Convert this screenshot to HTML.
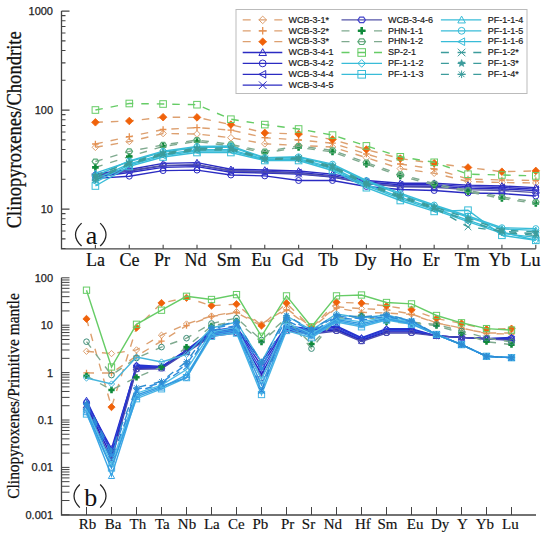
<!DOCTYPE html><html><head><meta charset="utf-8"><style>html,body{margin:0;padding:0;background:#fff;width:550px;height:538px;overflow:hidden}svg{display:block}</style></head><body>
<svg width="550" height="538" viewBox="0 0 550 538">
<rect width="550" height="538" fill="#fff"/>
<path d="M61.5,11.1V248.8H535.8" fill="none" stroke="#444" stroke-width="1.3"/>
<path d="M61.5,209.10h8M61.5,179.30h4M61.5,161.86h4M61.5,149.50h4M61.5,139.90h4M61.5,132.06h4M61.5,125.44h4M61.5,119.69h4M61.5,114.63h4M61.5,110.10h8M61.5,80.30h4M61.5,62.86h4M61.5,50.50h4M61.5,40.90h4M61.5,33.06h4M61.5,26.44h4M61.5,20.69h4M61.5,15.63h4M61.5,248.50h4M61.5,238.90h4M61.5,231.06h4M61.5,224.44h4M61.5,218.69h4M61.5,213.63h4M61.5,11.1h8M95.38,248.8v-4M129.26,248.8v-4M163.14,248.8v-4M197.01,248.8v-4M230.89,248.8v-4M264.77,248.8v-4M298.65,248.8v-4M332.53,248.8v-4M366.41,248.8v-4M400.29,248.8v-4M434.16,248.8v-4M468.04,248.8v-4M501.92,248.8v-4M535.80,248.8v-4" stroke="#444" stroke-width="1.1"/>
<g font-family="Liberation Sans" font-size="11" fill="#222" stroke="#222" stroke-width="0.25" text-anchor="end">
<text x="53" y="15.1">1000</text>
<text x="53" y="114.1">100</text>
<text x="53" y="213.1">10</text>
</g>
<g font-family="Liberation Serif" font-size="18" fill="#111" stroke="#111" stroke-width="0.2" text-anchor="middle">
<text x="95.5" y="266">La</text>
<text x="129.6" y="266">Ce</text>
<text x="162.0" y="266">Pr</text>
<text x="195.4" y="266">Nd</text>
<text x="228.8" y="266">Sm</text>
<text x="261.3" y="266">Eu</text>
<text x="292.5" y="266">Gd</text>
<text x="328.3" y="266">Tb</text>
<text x="365.4" y="266">Dy</text>
<text x="401.0" y="266">Ho</text>
<text x="431.0" y="266">Er</text>
<text x="467.3" y="266">Tm</text>
<text x="499.5" y="266">Yb</text>
<text x="530.5" y="266">Lu</text>
</g>
<text transform="translate(21.3,129.8) rotate(-90)" font-family="Liberation Serif" font-size="20" fill="#111" stroke="#111" stroke-width="0.3" text-anchor="middle" textLength="197" lengthAdjust="spacingAndGlyphs">Clinopyroxenes/Chondrite</text>
<path d="M81.6,223.1Q69.4,234.7 81.6,246M100.2,223.1Q111.8,234.7 100.2,246" fill="none" stroke="#222" stroke-width="1.25"/>
<text x="91.6" y="243.8" font-family="Liberation Serif" font-size="26" fill="#111" text-anchor="middle">a</text>
<path d="M61.5,277.8V515.0H536.0" fill="none" stroke="#444" stroke-width="1.3"/>
<path d="M61.5,514.80h8M61.5,500.53h8M61.5,492.18h8M61.5,486.26h8M61.5,481.67h8M61.5,477.92h8M61.5,474.74h8M61.5,471.99h8M61.5,469.57h8M61.5,467.40h8M61.5,453.13h8M61.5,444.78h8M61.5,438.86h8M61.5,434.27h8M61.5,430.52h8M61.5,427.34h8M61.5,424.59h8M61.5,422.17h8M61.5,420.00h8M61.5,405.73h8M61.5,397.38h8M61.5,391.46h8M61.5,386.87h8M61.5,383.12h8M61.5,379.94h8M61.5,377.19h8M61.5,374.77h8M61.5,372.60h8M61.5,358.33h8M61.5,349.98h8M61.5,344.06h8M61.5,339.47h8M61.5,335.72h8M61.5,332.54h8M61.5,329.79h8M61.5,327.37h8M61.5,325.20h8M61.5,310.93h8M61.5,302.58h8M61.5,296.66h8M61.5,292.07h8M61.5,288.32h8M61.5,285.14h8M61.5,282.39h8M61.5,279.97h8M61.5,277.8h8M86.50,515.0v-8M111.50,515.0v-8M136.50,515.0v-8M161.50,515.0v-8M186.50,515.0v-8M211.50,515.0v-8M236.50,515.0v-8M261.50,515.0v-8M286.50,515.0v-8M311.50,515.0v-8M336.50,515.0v-8M361.50,515.0v-8M386.50,515.0v-8M411.50,515.0v-8M436.50,515.0v-8M461.50,515.0v-8M486.50,515.0v-8M511.50,515.0v-8" stroke="#444" stroke-width="1.0"/>
<g font-family="Liberation Sans" font-size="11" fill="#222" stroke="#222" stroke-width="0.25" text-anchor="end">
<text x="53" y="281.8">100</text>
<text x="53" y="329.2">10</text>
<text x="53" y="376.6">1</text>
<text x="53" y="424.0">0.1</text>
<text x="53" y="471.4">0.01</text>
<text x="53" y="518.8">0.001</text>
</g>
<g font-family="Liberation Serif" font-size="15" fill="#111" stroke="#111" stroke-width="0.15" text-anchor="middle">
<text x="87.5" y="529.4">Rb</text>
<text x="113.0" y="529.4">Ba</text>
<text x="137.9" y="529.4">Th</text>
<text x="162.4" y="529.4">Ta</text>
<text x="187.0" y="529.4">Nb</text>
<text x="211.8" y="529.4">La</text>
<text x="236.4" y="529.4">Ce</text>
<text x="260.3" y="529.4">Pb</text>
<text x="287.7" y="529.4">Pr</text>
<text x="308.5" y="529.4">Sr</text>
<text x="332.8" y="529.4">Nd</text>
<text x="362.9" y="529.4">Hf</text>
<text x="387.4" y="529.4">Sm</text>
<text x="415.1" y="529.4">Eu</text>
<text x="440.1" y="529.4">Dy</text>
<text x="462.4" y="529.4">Y</text>
<text x="484.9" y="529.4">Yb</text>
<text x="510.4" y="529.4">Lu</text>
</g>
<text transform="translate(19.1,396) rotate(-90)" font-family="Liberation Serif" font-size="17" fill="#111" stroke="#111" stroke-width="0.25" text-anchor="middle" textLength="205.5" lengthAdjust="spacingAndGlyphs">Clinopyroxenes/Primitive mantle</text>
<path d="M79.8,484.5Q68.2,496 79.8,507.6M100.2,484.5Q111.8,496 100.2,507.6" fill="none" stroke="#222" stroke-width="1.25"/>
<text x="90.7" y="505.5" font-family="Liberation Serif" font-size="26" fill="#111" text-anchor="middle">b</text>
<g>
<polyline points="95.4,147.3 129.3,141.5 163.1,133.5 197.0,134.0 230.9,137.7 264.8,143.8 298.6,145.4 332.5,147.0 366.4,157.7 400.3,168.6 434.2,173.2 468.0,181.5 501.9,182.5 535.8,183.0" fill="none" stroke="#DDA070" stroke-width="1.4" stroke-dasharray="7.5 8"/>
<path d="M92.10000000000001,147.3L95.4,144.0L98.7,147.3L95.4,150.60000000000002Z" fill="none" stroke="#DDA070" stroke-width="1.0"/>
<path d="M126.00000000000001,141.5L129.3,138.2L132.60000000000002,141.5L129.3,144.8Z" fill="none" stroke="#DDA070" stroke-width="1.0"/>
<path d="M159.79999999999998,133.5L163.1,130.2L166.4,133.5L163.1,136.8Z" fill="none" stroke="#DDA070" stroke-width="1.0"/>
<path d="M193.7,134L197.0,130.7L200.3,134L197.0,137.3Z" fill="none" stroke="#DDA070" stroke-width="1.0"/>
<path d="M227.6,137.7L230.9,134.39999999999998L234.20000000000002,137.7L230.9,141.0Z" fill="none" stroke="#DDA070" stroke-width="1.0"/>
<path d="M261.5,143.8L264.8,140.5L268.1,143.8L264.8,147.10000000000002Z" fill="none" stroke="#DDA070" stroke-width="1.0"/>
<path d="M295.3,145.4L298.6,142.1L301.90000000000003,145.4L298.6,148.70000000000002Z" fill="none" stroke="#DDA070" stroke-width="1.0"/>
<path d="M329.2,147L332.5,143.7L335.8,147L332.5,150.3Z" fill="none" stroke="#DDA070" stroke-width="1.0"/>
<path d="M363.09999999999997,157.7L366.4,154.39999999999998L369.7,157.7L366.4,161.0Z" fill="none" stroke="#DDA070" stroke-width="1.0"/>
<path d="M397.0,168.6L400.3,165.29999999999998L403.6,168.6L400.3,171.9Z" fill="none" stroke="#DDA070" stroke-width="1.0"/>
<path d="M430.9,173.2L434.2,169.89999999999998L437.5,173.2L434.2,176.5Z" fill="none" stroke="#DDA070" stroke-width="1.0"/>
<path d="M464.7,181.5L468.0,178.2L471.3,181.5L468.0,184.8Z" fill="none" stroke="#DDA070" stroke-width="1.0"/>
<path d="M498.59999999999997,182.5L501.9,179.2L505.2,182.5L501.9,185.8Z" fill="none" stroke="#DDA070" stroke-width="1.0"/>
<path d="M532.5,183L535.8,179.7L539.0999999999999,183L535.8,186.3Z" fill="none" stroke="#DDA070" stroke-width="1.0"/>
<polyline points="95.4,144.0 129.3,136.6 163.1,129.5 197.0,127.6 230.9,130.1 264.8,137.7 298.6,140.0 332.5,143.2 366.4,154.0 400.3,164.0 434.2,169.0 468.0,179.0 501.9,180.0 535.8,180.5" fill="none" stroke="#DDA070" stroke-width="1.4" stroke-dasharray="7.5 8"/>
<path d="M92.10000000000001,144H98.7M95.4,140.7V147.3" stroke="#E59050" stroke-width="1.3"/>
<path d="M126.00000000000001,136.6H132.60000000000002M129.3,133.29999999999998V139.9" stroke="#E59050" stroke-width="1.3"/>
<path d="M159.79999999999998,129.5H166.4M163.1,126.2V132.8" stroke="#E59050" stroke-width="1.3"/>
<path d="M193.7,127.6H200.3M197.0,124.3V130.9" stroke="#E59050" stroke-width="1.3"/>
<path d="M227.6,130.1H234.20000000000002M230.9,126.8V133.4" stroke="#E59050" stroke-width="1.3"/>
<path d="M261.5,137.7H268.1M264.8,134.39999999999998V141.0" stroke="#E59050" stroke-width="1.3"/>
<path d="M295.3,140H301.90000000000003M298.6,136.7V143.3" stroke="#E59050" stroke-width="1.3"/>
<path d="M329.2,143.2H335.8M332.5,139.89999999999998V146.5" stroke="#E59050" stroke-width="1.3"/>
<path d="M363.09999999999997,154H369.7M366.4,150.7V157.3" stroke="#E59050" stroke-width="1.3"/>
<path d="M397.0,164H403.6M400.3,160.7V167.3" stroke="#E59050" stroke-width="1.3"/>
<path d="M430.9,169H437.5M434.2,165.7V172.3" stroke="#E59050" stroke-width="1.3"/>
<path d="M464.7,179H471.3M468.0,175.7V182.3" stroke="#E59050" stroke-width="1.3"/>
<path d="M498.59999999999997,180H505.2M501.9,176.7V183.3" stroke="#E59050" stroke-width="1.3"/>
<path d="M532.5,180.5H539.0999999999999M535.8,177.2V183.8" stroke="#E59050" stroke-width="1.3"/>
<polyline points="95.4,122.3 129.3,121.0 163.1,117.2 197.0,117.4 230.9,124.6 264.8,132.9 298.6,134.0 332.5,139.5 366.4,149.5 400.3,158.6 434.2,163.2 468.0,167.5 501.9,171.7 535.8,170.9" fill="none" stroke="#DDA070" stroke-width="1.4" stroke-dasharray="7.5 8"/>
<path d="M91.60000000000001,122.3L95.4,118.5L99.2,122.3L95.4,126.1Z" fill="#F0620A" stroke="#F0620A" stroke-width="0.8"/>
<path d="M125.50000000000001,121L129.3,117.2L133.10000000000002,121L129.3,124.8Z" fill="#F0620A" stroke="#F0620A" stroke-width="0.8"/>
<path d="M159.29999999999998,117.2L163.1,113.4L166.9,117.2L163.1,121.0Z" fill="#F0620A" stroke="#F0620A" stroke-width="0.8"/>
<path d="M193.2,117.4L197.0,113.60000000000001L200.8,117.4L197.0,121.2Z" fill="#F0620A" stroke="#F0620A" stroke-width="0.8"/>
<path d="M227.1,124.6L230.9,120.8L234.70000000000002,124.6L230.9,128.4Z" fill="#F0620A" stroke="#F0620A" stroke-width="0.8"/>
<path d="M261.0,132.9L264.8,129.1L268.6,132.9L264.8,136.70000000000002Z" fill="#F0620A" stroke="#F0620A" stroke-width="0.8"/>
<path d="M294.8,134L298.6,130.2L302.40000000000003,134L298.6,137.8Z" fill="#F0620A" stroke="#F0620A" stroke-width="0.8"/>
<path d="M328.7,139.5L332.5,135.7L336.3,139.5L332.5,143.3Z" fill="#F0620A" stroke="#F0620A" stroke-width="0.8"/>
<path d="M362.59999999999997,149.5L366.4,145.7L370.2,149.5L366.4,153.3Z" fill="#F0620A" stroke="#F0620A" stroke-width="0.8"/>
<path d="M396.5,158.6L400.3,154.79999999999998L404.1,158.6L400.3,162.4Z" fill="#F0620A" stroke="#F0620A" stroke-width="0.8"/>
<path d="M430.4,163.2L434.2,159.39999999999998L438.0,163.2L434.2,167.0Z" fill="#F0620A" stroke="#F0620A" stroke-width="0.8"/>
<path d="M464.2,167.5L468.0,163.7L471.8,167.5L468.0,171.3Z" fill="#F0620A" stroke="#F0620A" stroke-width="0.8"/>
<path d="M498.09999999999997,171.7L501.9,167.89999999999998L505.7,171.7L501.9,175.5Z" fill="#F0620A" stroke="#F0620A" stroke-width="0.8"/>
<path d="M532.0,170.9L535.8,167.1L539.5999999999999,170.9L535.8,174.70000000000002Z" fill="#F0620A" stroke="#F0620A" stroke-width="0.8"/>
<polyline points="95.4,174.0 129.3,169.5 163.1,163.4 197.0,162.6 230.9,169.3 264.8,170.0 298.6,171.0 332.5,174.1 366.4,180.5 400.3,183.2 434.2,183.2 468.0,185.1 501.9,186.0 535.8,187.6" fill="none" stroke="#2B2BC2" stroke-width="1.4"/>
<path d="M92.10000000000001,176.64L95.4,170.7L98.7,176.64Z" fill="none" stroke="#2B2BC2" stroke-width="1.0"/>
<path d="M126.00000000000001,172.14L129.3,166.2L132.60000000000002,172.14Z" fill="none" stroke="#2B2BC2" stroke-width="1.0"/>
<path d="M159.79999999999998,166.04L163.1,160.1L166.4,166.04Z" fill="none" stroke="#2B2BC2" stroke-width="1.0"/>
<path d="M193.7,165.23999999999998L197.0,159.29999999999998L200.3,165.23999999999998Z" fill="none" stroke="#2B2BC2" stroke-width="1.0"/>
<path d="M227.6,171.94L230.9,166.0L234.20000000000002,171.94Z" fill="none" stroke="#2B2BC2" stroke-width="1.0"/>
<path d="M261.5,172.64L264.8,166.7L268.1,172.64Z" fill="none" stroke="#2B2BC2" stroke-width="1.0"/>
<path d="M295.3,173.64L298.6,167.7L301.90000000000003,173.64Z" fill="none" stroke="#2B2BC2" stroke-width="1.0"/>
<path d="M329.2,176.73999999999998L332.5,170.79999999999998L335.8,176.73999999999998Z" fill="none" stroke="#2B2BC2" stroke-width="1.0"/>
<path d="M363.09999999999997,183.14L366.4,177.2L369.7,183.14Z" fill="none" stroke="#2B2BC2" stroke-width="1.0"/>
<path d="M397.0,185.83999999999997L400.3,179.89999999999998L403.6,185.83999999999997Z" fill="none" stroke="#2B2BC2" stroke-width="1.0"/>
<path d="M430.9,185.83999999999997L434.2,179.89999999999998L437.5,185.83999999999997Z" fill="none" stroke="#2B2BC2" stroke-width="1.0"/>
<path d="M464.7,187.73999999999998L468.0,181.79999999999998L471.3,187.73999999999998Z" fill="none" stroke="#2B2BC2" stroke-width="1.0"/>
<path d="M498.59999999999997,188.64L501.9,182.7L505.2,188.64Z" fill="none" stroke="#2B2BC2" stroke-width="1.0"/>
<path d="M532.5,190.23999999999998L535.8,184.29999999999998L539.0999999999999,190.23999999999998Z" fill="none" stroke="#2B2BC2" stroke-width="1.0"/>
<polyline points="95.4,178.4 129.3,176.2 163.1,170.6 197.0,170.1 230.9,175.0 264.8,175.9 298.6,180.5 332.5,180.5 366.4,186.5 400.3,189.5 434.2,190.5 468.0,193.0 501.9,193.5 535.8,196.0" fill="none" stroke="#2B2BC2" stroke-width="1.4"/>
<circle cx="95.4" cy="178.4" r="2.9699999999999998" fill="none" stroke="#2B2BC2" stroke-width="1.0"/>
<circle cx="129.3" cy="176.2" r="2.9699999999999998" fill="none" stroke="#2B2BC2" stroke-width="1.0"/>
<circle cx="163.1" cy="170.6" r="2.9699999999999998" fill="none" stroke="#2B2BC2" stroke-width="1.0"/>
<circle cx="197.0" cy="170.1" r="2.9699999999999998" fill="none" stroke="#2B2BC2" stroke-width="1.0"/>
<circle cx="230.9" cy="175" r="2.9699999999999998" fill="none" stroke="#2B2BC2" stroke-width="1.0"/>
<circle cx="264.8" cy="175.9" r="2.9699999999999998" fill="none" stroke="#2B2BC2" stroke-width="1.0"/>
<circle cx="298.6" cy="180.5" r="2.9699999999999998" fill="none" stroke="#2B2BC2" stroke-width="1.0"/>
<circle cx="332.5" cy="180.5" r="2.9699999999999998" fill="none" stroke="#2B2BC2" stroke-width="1.0"/>
<circle cx="366.4" cy="186.5" r="2.9699999999999998" fill="none" stroke="#2B2BC2" stroke-width="1.0"/>
<circle cx="400.3" cy="189.5" r="2.9699999999999998" fill="none" stroke="#2B2BC2" stroke-width="1.0"/>
<circle cx="434.2" cy="190.5" r="2.9699999999999998" fill="none" stroke="#2B2BC2" stroke-width="1.0"/>
<circle cx="468.0" cy="193" r="2.9699999999999998" fill="none" stroke="#2B2BC2" stroke-width="1.0"/>
<circle cx="501.9" cy="193.5" r="2.9699999999999998" fill="none" stroke="#2B2BC2" stroke-width="1.0"/>
<circle cx="535.8" cy="196" r="2.9699999999999998" fill="none" stroke="#2B2BC2" stroke-width="1.0"/>
<polyline points="95.4,175.5 129.3,171.0 163.1,165.9 197.0,165.1 230.9,170.8 264.8,171.5 298.6,172.5 332.5,175.6 366.4,182.0 400.3,184.7 434.2,184.7 468.0,186.6 501.9,187.5 535.8,189.1" fill="none" stroke="#2B2BC2" stroke-width="1.4"/>
<path d="M98.04,172.2L92.10000000000001,175.5L98.04,178.8Z" fill="none" stroke="#2B2BC2" stroke-width="1.0"/>
<path d="M131.94,167.7L126.00000000000001,171.0L131.94,174.3Z" fill="none" stroke="#2B2BC2" stroke-width="1.0"/>
<path d="M165.73999999999998,162.6L159.79999999999998,165.9L165.73999999999998,169.20000000000002Z" fill="none" stroke="#2B2BC2" stroke-width="1.0"/>
<path d="M199.64,161.79999999999998L193.7,165.1L199.64,168.4Z" fill="none" stroke="#2B2BC2" stroke-width="1.0"/>
<path d="M233.54,167.5L227.6,170.8L233.54,174.10000000000002Z" fill="none" stroke="#2B2BC2" stroke-width="1.0"/>
<path d="M267.44,168.2L261.5,171.5L267.44,174.8Z" fill="none" stroke="#2B2BC2" stroke-width="1.0"/>
<path d="M301.24,169.2L295.3,172.5L301.24,175.8Z" fill="none" stroke="#2B2BC2" stroke-width="1.0"/>
<path d="M335.14,172.29999999999998L329.2,175.6L335.14,178.9Z" fill="none" stroke="#2B2BC2" stroke-width="1.0"/>
<path d="M369.03999999999996,178.7L363.09999999999997,182.0L369.03999999999996,185.3Z" fill="none" stroke="#2B2BC2" stroke-width="1.0"/>
<path d="M402.94,181.39999999999998L397.0,184.7L402.94,188.0Z" fill="none" stroke="#2B2BC2" stroke-width="1.0"/>
<path d="M436.84,181.39999999999998L430.9,184.7L436.84,188.0Z" fill="none" stroke="#2B2BC2" stroke-width="1.0"/>
<path d="M470.64,183.29999999999998L464.7,186.6L470.64,189.9Z" fill="none" stroke="#2B2BC2" stroke-width="1.0"/>
<path d="M504.53999999999996,184.2L498.59999999999997,187.5L504.53999999999996,190.8Z" fill="none" stroke="#2B2BC2" stroke-width="1.0"/>
<path d="M538.4399999999999,185.79999999999998L532.5,189.1L538.4399999999999,192.4Z" fill="none" stroke="#2B2BC2" stroke-width="1.0"/>
<polyline points="95.4,177.0 129.3,172.5 163.1,167.4 197.0,166.6 230.9,172.3 264.8,173.0 298.6,174.0 332.5,177.1 366.4,183.5 400.3,186.2 434.2,186.2 468.0,188.1 501.9,189.0 535.8,190.6" fill="none" stroke="#2B2BC2" stroke-width="1.4"/>
<path d="M92.10000000000001,173.7L98.7,180.3M92.10000000000001,180.3L98.7,173.7" stroke="#2B2BC2" stroke-width="1.0"/>
<path d="M126.00000000000001,169.2L132.60000000000002,175.8M126.00000000000001,175.8L132.60000000000002,169.2" stroke="#2B2BC2" stroke-width="1.0"/>
<path d="M159.79999999999998,164.1L166.4,170.70000000000002M159.79999999999998,170.70000000000002L166.4,164.1" stroke="#2B2BC2" stroke-width="1.0"/>
<path d="M193.7,163.29999999999998L200.3,169.9M193.7,169.9L200.3,163.29999999999998" stroke="#2B2BC2" stroke-width="1.0"/>
<path d="M227.6,169.0L234.20000000000002,175.60000000000002M227.6,175.60000000000002L234.20000000000002,169.0" stroke="#2B2BC2" stroke-width="1.0"/>
<path d="M261.5,169.7L268.1,176.3M261.5,176.3L268.1,169.7" stroke="#2B2BC2" stroke-width="1.0"/>
<path d="M295.3,170.7L301.90000000000003,177.3M295.3,177.3L301.90000000000003,170.7" stroke="#2B2BC2" stroke-width="1.0"/>
<path d="M329.2,173.79999999999998L335.8,180.4M329.2,180.4L335.8,173.79999999999998" stroke="#2B2BC2" stroke-width="1.0"/>
<path d="M363.09999999999997,180.2L369.7,186.8M363.09999999999997,186.8L369.7,180.2" stroke="#2B2BC2" stroke-width="1.0"/>
<path d="M397.0,182.89999999999998L403.6,189.5M397.0,189.5L403.6,182.89999999999998" stroke="#2B2BC2" stroke-width="1.0"/>
<path d="M430.9,182.89999999999998L437.5,189.5M430.9,189.5L437.5,182.89999999999998" stroke="#2B2BC2" stroke-width="1.0"/>
<path d="M464.7,184.79999999999998L471.3,191.4M464.7,191.4L471.3,184.79999999999998" stroke="#2B2BC2" stroke-width="1.0"/>
<path d="M498.59999999999997,185.7L505.2,192.3M498.59999999999997,192.3L505.2,185.7" stroke="#2B2BC2" stroke-width="1.0"/>
<path d="M532.5,187.29999999999998L539.0999999999999,193.9M532.5,193.9L539.0999999999999,187.29999999999998" stroke="#2B2BC2" stroke-width="1.0"/>
<polyline points="95.4,175.0 129.3,170.5 163.1,165.4 197.0,164.6 230.9,170.8 264.8,172.0 298.6,173.5 332.5,176.6 366.4,183.5 400.3,186.7 434.2,187.2 468.0,189.6 501.9,190.5 535.8,192.6" fill="none" stroke="#5555A8" stroke-width="1.4"/>
<polygon points="98.70,175.00 97.05,177.43 93.75,177.43 92.10,175.00 93.75,172.57 97.05,172.57" fill="none" stroke="#4444CC" stroke-width="1.2"/>
<polygon points="132.60,170.50 130.95,172.93 127.65,172.93 126.00,170.50 127.65,168.07 130.95,168.07" fill="none" stroke="#4444CC" stroke-width="1.2"/>
<polygon points="166.40,165.40 164.75,167.83 161.45,167.83 159.80,165.40 161.45,162.97 164.75,162.97" fill="none" stroke="#4444CC" stroke-width="1.2"/>
<polygon points="200.30,164.60 198.65,167.03 195.35,167.03 193.70,164.60 195.35,162.17 198.65,162.17" fill="none" stroke="#4444CC" stroke-width="1.2"/>
<polygon points="234.20,170.80 232.55,173.23 229.25,173.23 227.60,170.80 229.25,168.37 232.55,168.37" fill="none" stroke="#4444CC" stroke-width="1.2"/>
<polygon points="268.10,172.00 266.45,174.43 263.15,174.43 261.50,172.00 263.15,169.57 266.45,169.57" fill="none" stroke="#4444CC" stroke-width="1.2"/>
<polygon points="301.90,173.50 300.25,175.93 296.95,175.93 295.30,173.50 296.95,171.07 300.25,171.07" fill="none" stroke="#4444CC" stroke-width="1.2"/>
<polygon points="335.80,176.60 334.15,179.03 330.85,179.03 329.20,176.60 330.85,174.17 334.15,174.17" fill="none" stroke="#4444CC" stroke-width="1.2"/>
<polygon points="369.70,183.50 368.05,185.93 364.75,185.93 363.10,183.50 364.75,181.07 368.05,181.07" fill="none" stroke="#4444CC" stroke-width="1.2"/>
<polygon points="403.60,186.70 401.95,189.13 398.65,189.13 397.00,186.70 398.65,184.27 401.95,184.27" fill="none" stroke="#4444CC" stroke-width="1.2"/>
<polygon points="437.50,187.20 435.85,189.63 432.55,189.63 430.90,187.20 432.55,184.77 435.85,184.77" fill="none" stroke="#4444CC" stroke-width="1.2"/>
<polygon points="471.30,189.60 469.65,192.03 466.35,192.03 464.70,189.60 466.35,187.17 469.65,187.17" fill="none" stroke="#4444CC" stroke-width="1.2"/>
<polygon points="505.20,190.50 503.55,192.93 500.25,192.93 498.60,190.50 500.25,188.07 503.55,188.07" fill="none" stroke="#4444CC" stroke-width="1.2"/>
<polygon points="539.10,192.60 537.45,195.03 534.15,195.03 532.50,192.60 534.15,190.17 537.45,190.17" fill="none" stroke="#4444CC" stroke-width="1.2"/>
<polyline points="95.4,167.4 129.3,156.5 163.1,146.4 197.0,141.5 230.9,146.0 264.8,153.0 298.6,147.5 332.5,151.9 366.4,164.1 400.3,175.9 434.2,185.0 468.0,191.8 501.9,198.5 535.8,203.5" fill="none" stroke="#7FAA8F" stroke-width="1.4" stroke-dasharray="7.5 8"/>
<path d="M92.10000000000001,167.4H98.7M95.4,164.1V170.70000000000002" stroke="#0F8A3A" stroke-width="2.6"/>
<path d="M126.00000000000001,156.5H132.60000000000002M129.3,153.2V159.8" stroke="#0F8A3A" stroke-width="2.6"/>
<path d="M159.79999999999998,146.4H166.4M163.1,143.1V149.70000000000002" stroke="#0F8A3A" stroke-width="2.6"/>
<path d="M193.7,141.5H200.3M197.0,138.2V144.8" stroke="#0F8A3A" stroke-width="2.6"/>
<path d="M227.6,146H234.20000000000002M230.9,142.7V149.3" stroke="#0F8A3A" stroke-width="2.6"/>
<path d="M261.5,153H268.1M264.8,149.7V156.3" stroke="#0F8A3A" stroke-width="2.6"/>
<path d="M295.3,147.5H301.90000000000003M298.6,144.2V150.8" stroke="#0F8A3A" stroke-width="2.6"/>
<path d="M329.2,151.9H335.8M332.5,148.6V155.20000000000002" stroke="#0F8A3A" stroke-width="2.6"/>
<path d="M363.09999999999997,164.1H369.7M366.4,160.79999999999998V167.4" stroke="#0F8A3A" stroke-width="2.6"/>
<path d="M397.0,175.9H403.6M400.3,172.6V179.20000000000002" stroke="#0F8A3A" stroke-width="2.6"/>
<path d="M430.9,185H437.5M434.2,181.7V188.3" stroke="#0F8A3A" stroke-width="2.6"/>
<path d="M464.7,191.8H471.3M468.0,188.5V195.10000000000002" stroke="#0F8A3A" stroke-width="2.6"/>
<path d="M498.59999999999997,198.5H505.2M501.9,195.2V201.8" stroke="#0F8A3A" stroke-width="2.6"/>
<path d="M532.5,203.5H539.0999999999999M535.8,200.2V206.8" stroke="#0F8A3A" stroke-width="2.6"/>
<polyline points="95.4,161.5 129.3,151.4 163.1,144.9 197.0,140.0 230.9,144.4 264.8,151.5 298.6,146.0 332.5,150.4 366.4,162.6 400.3,174.4 434.2,183.5 468.0,190.3 501.9,197.0 535.8,202.0" fill="none" stroke="#7FAA8F" stroke-width="1.4" stroke-dasharray="7.5 8"/>
<polygon points="98.70,161.50 97.05,163.93 93.75,163.93 92.10,161.50 93.75,159.07 97.05,159.07" fill="none" stroke="#5AAA78" stroke-width="1.2"/>
<polygon points="132.60,151.40 130.95,153.83 127.65,153.83 126.00,151.40 127.65,148.97 130.95,148.97" fill="none" stroke="#5AAA78" stroke-width="1.2"/>
<polygon points="166.40,144.90 164.75,147.33 161.45,147.33 159.80,144.90 161.45,142.47 164.75,142.47" fill="none" stroke="#5AAA78" stroke-width="1.2"/>
<polygon points="200.30,140.00 198.65,142.43 195.35,142.43 193.70,140.00 195.35,137.57 198.65,137.57" fill="none" stroke="#5AAA78" stroke-width="1.2"/>
<polygon points="234.20,144.40 232.55,146.83 229.25,146.83 227.60,144.40 229.25,141.97 232.55,141.97" fill="none" stroke="#5AAA78" stroke-width="1.2"/>
<polygon points="268.10,151.50 266.45,153.93 263.15,153.93 261.50,151.50 263.15,149.07 266.45,149.07" fill="none" stroke="#5AAA78" stroke-width="1.2"/>
<polygon points="301.90,146.00 300.25,148.43 296.95,148.43 295.30,146.00 296.95,143.57 300.25,143.57" fill="none" stroke="#5AAA78" stroke-width="1.2"/>
<polygon points="335.80,150.40 334.15,152.83 330.85,152.83 329.20,150.40 330.85,147.97 334.15,147.97" fill="none" stroke="#5AAA78" stroke-width="1.2"/>
<polygon points="369.70,162.60 368.05,165.03 364.75,165.03 363.10,162.60 364.75,160.17 368.05,160.17" fill="none" stroke="#5AAA78" stroke-width="1.2"/>
<polygon points="403.60,174.40 401.95,176.83 398.65,176.83 397.00,174.40 398.65,171.97 401.95,171.97" fill="none" stroke="#5AAA78" stroke-width="1.2"/>
<polygon points="437.50,183.50 435.85,185.93 432.55,185.93 430.90,183.50 432.55,181.07 435.85,181.07" fill="none" stroke="#5AAA78" stroke-width="1.2"/>
<polygon points="471.30,190.30 469.65,192.73 466.35,192.73 464.70,190.30 466.35,187.87 469.65,187.87" fill="none" stroke="#5AAA78" stroke-width="1.2"/>
<polygon points="505.20,197.00 503.55,199.43 500.25,199.43 498.60,197.00 500.25,194.57 503.55,194.57" fill="none" stroke="#5AAA78" stroke-width="1.2"/>
<polygon points="539.10,202.00 537.45,204.43 534.15,204.43 532.50,202.00 534.15,199.57 537.45,199.57" fill="none" stroke="#5AAA78" stroke-width="1.2"/>
<polyline points="95.4,110.0 129.3,103.5 163.1,104.0 197.0,104.7 230.9,119.2 264.8,124.6 298.6,129.0 332.5,135.1 366.4,145.9 400.3,156.8 434.2,162.3 468.0,174.2 501.9,175.0 535.8,175.9" fill="none" stroke="#66CC66" stroke-width="1.4" stroke-dasharray="7.5 8"/>
<rect x="92.10000000000001" y="106.7" width="6.6" height="6.6" fill="none" stroke="#66CC66" stroke-width="1.0"/>
<rect x="126.00000000000001" y="100.2" width="6.6" height="6.6" fill="none" stroke="#66CC66" stroke-width="1.0"/>
<rect x="159.79999999999998" y="100.7" width="6.6" height="6.6" fill="none" stroke="#66CC66" stroke-width="1.0"/>
<rect x="193.7" y="101.4" width="6.6" height="6.6" fill="none" stroke="#66CC66" stroke-width="1.0"/>
<rect x="227.6" y="115.9" width="6.6" height="6.6" fill="none" stroke="#66CC66" stroke-width="1.0"/>
<rect x="261.5" y="121.3" width="6.6" height="6.6" fill="none" stroke="#66CC66" stroke-width="1.0"/>
<rect x="295.3" y="125.7" width="6.6" height="6.6" fill="none" stroke="#66CC66" stroke-width="1.0"/>
<rect x="329.2" y="131.79999999999998" width="6.6" height="6.6" fill="none" stroke="#66CC66" stroke-width="1.0"/>
<rect x="363.09999999999997" y="142.6" width="6.6" height="6.6" fill="none" stroke="#66CC66" stroke-width="1.0"/>
<rect x="397.0" y="153.5" width="6.6" height="6.6" fill="none" stroke="#66CC66" stroke-width="1.0"/>
<rect x="430.9" y="159.0" width="6.6" height="6.6" fill="none" stroke="#66CC66" stroke-width="1.0"/>
<rect x="464.7" y="170.89999999999998" width="6.6" height="6.6" fill="none" stroke="#66CC66" stroke-width="1.0"/>
<rect x="498.59999999999997" y="171.7" width="6.6" height="6.6" fill="none" stroke="#66CC66" stroke-width="1.0"/>
<rect x="532.5" y="172.6" width="6.6" height="6.6" fill="none" stroke="#66CC66" stroke-width="1.0"/>
<polyline points="95.4,179.2 129.3,163.9 163.1,154.4 197.0,149.8 230.9,149.6 264.8,159.2 298.6,158.8 332.5,167.6 366.4,184.5 400.3,197.2 434.2,208.5 468.0,220.2 501.9,231.9 535.8,240.3" fill="none" stroke="#38BCD8" stroke-width="1.4"/>
<path d="M92.10000000000001,179.2L95.4,175.89999999999998L98.7,179.2L95.4,182.5Z" fill="none" stroke="#38BCD8" stroke-width="1.0"/>
<path d="M126.00000000000001,163.9L129.3,160.6L132.60000000000002,163.9L129.3,167.20000000000002Z" fill="none" stroke="#38BCD8" stroke-width="1.0"/>
<path d="M159.79999999999998,154.4L163.1,151.1L166.4,154.4L163.1,157.70000000000002Z" fill="none" stroke="#38BCD8" stroke-width="1.0"/>
<path d="M193.7,149.8L197.0,146.5L200.3,149.8L197.0,153.10000000000002Z" fill="none" stroke="#38BCD8" stroke-width="1.0"/>
<path d="M227.6,149.6L230.9,146.29999999999998L234.20000000000002,149.6L230.9,152.9Z" fill="none" stroke="#38BCD8" stroke-width="1.0"/>
<path d="M261.5,159.2L264.8,155.89999999999998L268.1,159.2L264.8,162.5Z" fill="none" stroke="#38BCD8" stroke-width="1.0"/>
<path d="M295.3,158.8L298.6,155.5L301.90000000000003,158.8L298.6,162.10000000000002Z" fill="none" stroke="#38BCD8" stroke-width="1.0"/>
<path d="M329.2,167.6L332.5,164.29999999999998L335.8,167.6L332.5,170.9Z" fill="none" stroke="#38BCD8" stroke-width="1.0"/>
<path d="M363.09999999999997,184.5L366.4,181.2L369.7,184.5L366.4,187.8Z" fill="none" stroke="#38BCD8" stroke-width="1.0"/>
<path d="M397.0,197.2L400.3,193.89999999999998L403.6,197.2L400.3,200.5Z" fill="none" stroke="#38BCD8" stroke-width="1.0"/>
<path d="M430.9,208.5L434.2,205.2L437.5,208.5L434.2,211.8Z" fill="none" stroke="#38BCD8" stroke-width="1.0"/>
<path d="M464.7,220.2L468.0,216.89999999999998L471.3,220.2L468.0,223.5Z" fill="none" stroke="#38BCD8" stroke-width="1.0"/>
<path d="M498.59999999999997,231.9L501.9,228.6L505.2,231.9L501.9,235.20000000000002Z" fill="none" stroke="#38BCD8" stroke-width="1.0"/>
<path d="M532.5,240.3L535.8,237.0L539.0999999999999,240.3L535.8,243.60000000000002Z" fill="none" stroke="#38BCD8" stroke-width="1.0"/>
<polyline points="95.4,186.0 129.3,166.4 163.1,157.0 197.0,152.5 230.9,152.5 264.8,160.5 298.6,160.5 332.5,170.5 366.4,187.7 400.3,200.5 434.2,211.4 468.0,210.2 501.9,235.3 535.8,240.3" fill="none" stroke="#38BCD8" stroke-width="1.4"/>
<rect x="92.10000000000001" y="182.7" width="6.6" height="6.6" fill="none" stroke="#38BCD8" stroke-width="1.0"/>
<rect x="126.00000000000001" y="163.1" width="6.6" height="6.6" fill="none" stroke="#38BCD8" stroke-width="1.0"/>
<rect x="159.79999999999998" y="153.7" width="6.6" height="6.6" fill="none" stroke="#38BCD8" stroke-width="1.0"/>
<rect x="193.7" y="149.2" width="6.6" height="6.6" fill="none" stroke="#38BCD8" stroke-width="1.0"/>
<rect x="227.6" y="149.2" width="6.6" height="6.6" fill="none" stroke="#38BCD8" stroke-width="1.0"/>
<rect x="261.5" y="157.2" width="6.6" height="6.6" fill="none" stroke="#38BCD8" stroke-width="1.0"/>
<rect x="295.3" y="157.2" width="6.6" height="6.6" fill="none" stroke="#38BCD8" stroke-width="1.0"/>
<rect x="329.2" y="167.2" width="6.6" height="6.6" fill="none" stroke="#38BCD8" stroke-width="1.0"/>
<rect x="363.09999999999997" y="184.39999999999998" width="6.6" height="6.6" fill="none" stroke="#38BCD8" stroke-width="1.0"/>
<rect x="397.0" y="197.2" width="6.6" height="6.6" fill="none" stroke="#38BCD8" stroke-width="1.0"/>
<rect x="430.9" y="208.1" width="6.6" height="6.6" fill="none" stroke="#38BCD8" stroke-width="1.0"/>
<rect x="464.7" y="206.89999999999998" width="6.6" height="6.6" fill="none" stroke="#38BCD8" stroke-width="1.0"/>
<rect x="498.59999999999997" y="232.0" width="6.6" height="6.6" fill="none" stroke="#38BCD8" stroke-width="1.0"/>
<rect x="532.5" y="237.0" width="6.6" height="6.6" fill="none" stroke="#38BCD8" stroke-width="1.0"/>
<polyline points="95.4,173.2 129.3,161.7 163.1,152.2 197.0,147.4 230.9,147.0 264.8,158.1 298.6,157.4 332.5,165.1 366.4,181.6 400.3,194.3 434.2,206.0 468.0,217.1 501.9,228.8 535.8,230.4" fill="none" stroke="#38BCD8" stroke-width="1.4"/>
<path d="M92.10000000000001,175.83999999999997L95.4,169.89999999999998L98.7,175.83999999999997Z" fill="none" stroke="#38BCD8" stroke-width="1.0"/>
<path d="M126.00000000000001,164.33999999999997L129.3,158.39999999999998L132.60000000000002,164.33999999999997Z" fill="none" stroke="#38BCD8" stroke-width="1.0"/>
<path d="M159.79999999999998,154.83999999999997L163.1,148.89999999999998L166.4,154.83999999999997Z" fill="none" stroke="#38BCD8" stroke-width="1.0"/>
<path d="M193.7,150.04L197.0,144.1L200.3,150.04Z" fill="none" stroke="#38BCD8" stroke-width="1.0"/>
<path d="M227.6,149.64L230.9,143.7L234.20000000000002,149.64Z" fill="none" stroke="#38BCD8" stroke-width="1.0"/>
<path d="M261.5,160.73999999999998L264.8,154.79999999999998L268.1,160.73999999999998Z" fill="none" stroke="#38BCD8" stroke-width="1.0"/>
<path d="M295.3,160.04L298.6,154.1L301.90000000000003,160.04Z" fill="none" stroke="#38BCD8" stroke-width="1.0"/>
<path d="M329.2,167.73999999999998L332.5,161.79999999999998L335.8,167.73999999999998Z" fill="none" stroke="#38BCD8" stroke-width="1.0"/>
<path d="M363.09999999999997,184.23999999999998L366.4,178.29999999999998L369.7,184.23999999999998Z" fill="none" stroke="#38BCD8" stroke-width="1.0"/>
<path d="M397.0,196.94L400.3,191.0L403.6,196.94Z" fill="none" stroke="#38BCD8" stroke-width="1.0"/>
<path d="M430.9,208.64L434.2,202.7L437.5,208.64Z" fill="none" stroke="#38BCD8" stroke-width="1.0"/>
<path d="M464.7,219.73999999999998L468.0,213.79999999999998L471.3,219.73999999999998Z" fill="none" stroke="#38BCD8" stroke-width="1.0"/>
<path d="M498.59999999999997,231.44L501.9,225.5L505.2,231.44Z" fill="none" stroke="#38BCD8" stroke-width="1.0"/>
<path d="M532.5,233.04L535.8,227.1L539.0999999999999,233.04Z" fill="none" stroke="#38BCD8" stroke-width="1.0"/>
<polyline points="95.4,176.0 129.3,160.9 163.1,151.3 197.0,146.5 230.9,146.0 264.8,157.7 298.6,156.8 332.5,164.1 366.4,180.5 400.3,193.2 434.2,205.0 468.0,216.0 501.9,227.7 535.8,228.6" fill="none" stroke="#38BCD8" stroke-width="1.4"/>
<circle cx="95.4" cy="176" r="2.9699999999999998" fill="none" stroke="#38BCD8" stroke-width="1.0"/>
<circle cx="129.3" cy="160.9" r="2.9699999999999998" fill="none" stroke="#38BCD8" stroke-width="1.0"/>
<circle cx="163.1" cy="151.3" r="2.9699999999999998" fill="none" stroke="#38BCD8" stroke-width="1.0"/>
<circle cx="197.0" cy="146.5" r="2.9699999999999998" fill="none" stroke="#38BCD8" stroke-width="1.0"/>
<circle cx="230.9" cy="146.0" r="2.9699999999999998" fill="none" stroke="#38BCD8" stroke-width="1.0"/>
<circle cx="264.8" cy="157.7" r="2.9699999999999998" fill="none" stroke="#38BCD8" stroke-width="1.0"/>
<circle cx="298.6" cy="156.8" r="2.9699999999999998" fill="none" stroke="#38BCD8" stroke-width="1.0"/>
<circle cx="332.5" cy="164.1" r="2.9699999999999998" fill="none" stroke="#38BCD8" stroke-width="1.0"/>
<circle cx="366.4" cy="180.5" r="2.9699999999999998" fill="none" stroke="#38BCD8" stroke-width="1.0"/>
<circle cx="400.3" cy="193.2" r="2.9699999999999998" fill="none" stroke="#38BCD8" stroke-width="1.0"/>
<circle cx="434.2" cy="205.0" r="2.9699999999999998" fill="none" stroke="#38BCD8" stroke-width="1.0"/>
<circle cx="468.0" cy="216.0" r="2.9699999999999998" fill="none" stroke="#38BCD8" stroke-width="1.0"/>
<circle cx="501.9" cy="227.7" r="2.9699999999999998" fill="none" stroke="#38BCD8" stroke-width="1.0"/>
<circle cx="535.8" cy="228.6" r="2.9699999999999998" fill="none" stroke="#38BCD8" stroke-width="1.0"/>
<polyline points="95.4,182.2 129.3,165.0 163.1,155.6 197.0,151.0 230.9,150.9 264.8,159.8 298.6,159.6 332.5,168.9 366.4,185.9 400.3,198.7 434.2,209.8 468.0,221.7 501.9,233.4 535.8,237.4" fill="none" stroke="#38BCD8" stroke-width="1.4"/>
<path d="M98.04,178.89999999999998L92.10000000000001,182.2L98.04,185.5Z" fill="none" stroke="#38BCD8" stroke-width="1.0"/>
<path d="M131.94,161.7L126.00000000000001,165.0L131.94,168.3Z" fill="none" stroke="#38BCD8" stroke-width="1.0"/>
<path d="M165.73999999999998,152.29999999999998L159.79999999999998,155.6L165.73999999999998,158.9Z" fill="none" stroke="#38BCD8" stroke-width="1.0"/>
<path d="M199.64,147.7L193.7,151.0L199.64,154.3Z" fill="none" stroke="#38BCD8" stroke-width="1.0"/>
<path d="M233.54,147.6L227.6,150.9L233.54,154.20000000000002Z" fill="none" stroke="#38BCD8" stroke-width="1.0"/>
<path d="M267.44,156.5L261.5,159.8L267.44,163.10000000000002Z" fill="none" stroke="#38BCD8" stroke-width="1.0"/>
<path d="M301.24,156.29999999999998L295.3,159.6L301.24,162.9Z" fill="none" stroke="#38BCD8" stroke-width="1.0"/>
<path d="M335.14,165.6L329.2,168.9L335.14,172.20000000000002Z" fill="none" stroke="#38BCD8" stroke-width="1.0"/>
<path d="M369.03999999999996,182.6L363.09999999999997,185.9L369.03999999999996,189.20000000000002Z" fill="none" stroke="#38BCD8" stroke-width="1.0"/>
<path d="M402.94,195.39999999999998L397.0,198.7L402.94,202.0Z" fill="none" stroke="#38BCD8" stroke-width="1.0"/>
<path d="M436.84,206.5L430.9,209.8L436.84,213.10000000000002Z" fill="none" stroke="#38BCD8" stroke-width="1.0"/>
<path d="M470.64,218.39999999999998L464.7,221.7L470.64,225.0Z" fill="none" stroke="#38BCD8" stroke-width="1.0"/>
<path d="M504.53999999999996,230.1L498.59999999999997,233.4L504.53999999999996,236.70000000000002Z" fill="none" stroke="#38BCD8" stroke-width="1.0"/>
<path d="M538.4399999999999,234.1L532.5,237.4L538.4399999999999,240.70000000000002Z" fill="none" stroke="#38BCD8" stroke-width="1.0"/>
<polyline points="95.4,177.8 129.3,163.4 163.1,153.9 197.0,149.2 230.9,148.9 264.8,159.0 298.6,158.5 332.5,167.0 366.4,183.7 400.3,196.5 434.2,207.9 468.0,226.9 501.9,231.1 535.8,233.9" fill="none" stroke="#3C9C9C" stroke-width="1.4" stroke-dasharray="7.5 8"/>
<path d="M92.10000000000001,174.5L98.7,181.10000000000002M92.10000000000001,181.10000000000002L98.7,174.5" stroke="#3C9C9C" stroke-width="1.0"/>
<path d="M126.00000000000001,160.1L132.60000000000002,166.70000000000002M126.00000000000001,166.70000000000002L132.60000000000002,160.1" stroke="#3C9C9C" stroke-width="1.0"/>
<path d="M159.79999999999998,150.6L166.4,157.20000000000002M159.79999999999998,157.20000000000002L166.4,150.6" stroke="#3C9C9C" stroke-width="1.0"/>
<path d="M193.7,145.89999999999998L200.3,152.5M193.7,152.5L200.3,145.89999999999998" stroke="#3C9C9C" stroke-width="1.0"/>
<path d="M227.6,145.6L234.20000000000002,152.20000000000002M227.6,152.20000000000002L234.20000000000002,145.6" stroke="#3C9C9C" stroke-width="1.0"/>
<path d="M261.5,155.7L268.1,162.3M261.5,162.3L268.1,155.7" stroke="#3C9C9C" stroke-width="1.0"/>
<path d="M295.3,155.2L301.90000000000003,161.8M295.3,161.8L301.90000000000003,155.2" stroke="#3C9C9C" stroke-width="1.0"/>
<path d="M329.2,163.7L335.8,170.3M329.2,170.3L335.8,163.7" stroke="#3C9C9C" stroke-width="1.0"/>
<path d="M363.09999999999997,180.39999999999998L369.7,187.0M363.09999999999997,187.0L369.7,180.39999999999998" stroke="#3C9C9C" stroke-width="1.0"/>
<path d="M397.0,193.2L403.6,199.8M397.0,199.8L403.6,193.2" stroke="#3C9C9C" stroke-width="1.0"/>
<path d="M430.9,204.6L437.5,211.20000000000002M430.9,211.20000000000002L437.5,204.6" stroke="#3C9C9C" stroke-width="1.0"/>
<path d="M464.7,223.6L471.3,230.20000000000002M464.7,230.20000000000002L471.3,223.6" stroke="#3C9C9C" stroke-width="1.0"/>
<path d="M498.59999999999997,227.79999999999998L505.2,234.4M498.59999999999997,234.4L505.2,227.79999999999998" stroke="#3C9C9C" stroke-width="1.0"/>
<path d="M532.5,230.6L539.0999999999999,237.20000000000002M532.5,237.20000000000002L539.0999999999999,230.6" stroke="#3C9C9C" stroke-width="1.0"/>
<polyline points="95.4,175.5 129.3,162.6 163.1,153.0 197.0,148.3 230.9,147.9 264.8,158.5 298.6,157.9 332.5,166.0 366.4,182.7 400.3,195.4 434.2,206.9 468.0,218.3 501.9,230.0 535.8,232.1" fill="none" stroke="#3C9C9C" stroke-width="1.4" stroke-dasharray="7.5 8"/>
<polygon points="95.40,172.20 96.27,174.30 98.54,174.48 96.81,175.96 97.34,178.17 95.40,176.99 93.46,178.17 93.99,175.96 92.26,174.48 94.53,174.30" fill="#3C9C9C" stroke="#3C9C9C" stroke-width="0.6"/>
<polygon points="129.30,159.30 130.17,161.40 132.44,161.58 130.71,163.06 131.24,165.27 129.30,164.09 127.36,165.27 127.89,163.06 126.16,161.58 128.43,161.40" fill="#3C9C9C" stroke="#3C9C9C" stroke-width="0.6"/>
<polygon points="163.10,149.70 163.97,151.80 166.24,151.98 164.51,153.46 165.04,155.67 163.10,154.49 161.16,155.67 161.69,153.46 159.96,151.98 162.23,151.80" fill="#3C9C9C" stroke="#3C9C9C" stroke-width="0.6"/>
<polygon points="197.00,145.00 197.87,147.10 200.14,147.28 198.41,148.76 198.94,150.97 197.00,149.79 195.06,150.97 195.59,148.76 193.86,147.28 196.13,147.10" fill="#3C9C9C" stroke="#3C9C9C" stroke-width="0.6"/>
<polygon points="230.90,144.60 231.77,146.70 234.04,146.88 232.31,148.36 232.84,150.57 230.90,149.39 228.96,150.57 229.49,148.36 227.76,146.88 230.03,146.70" fill="#3C9C9C" stroke="#3C9C9C" stroke-width="0.6"/>
<polygon points="264.80,155.20 265.67,157.30 267.94,157.48 266.21,158.96 266.74,161.17 264.80,159.99 262.86,161.17 263.39,158.96 261.66,157.48 263.93,157.30" fill="#3C9C9C" stroke="#3C9C9C" stroke-width="0.6"/>
<polygon points="298.60,154.60 299.47,156.70 301.74,156.88 300.01,158.36 300.54,160.57 298.60,159.39 296.66,160.57 297.19,158.36 295.46,156.88 297.73,156.70" fill="#3C9C9C" stroke="#3C9C9C" stroke-width="0.6"/>
<polygon points="332.50,162.70 333.37,164.80 335.64,164.98 333.91,166.46 334.44,168.67 332.50,167.49 330.56,168.67 331.09,166.46 329.36,164.98 331.63,164.80" fill="#3C9C9C" stroke="#3C9C9C" stroke-width="0.6"/>
<polygon points="366.40,179.40 367.27,181.50 369.54,181.68 367.81,183.16 368.34,185.37 366.40,184.19 364.46,185.37 364.99,183.16 363.26,181.68 365.53,181.50" fill="#3C9C9C" stroke="#3C9C9C" stroke-width="0.6"/>
<polygon points="400.30,192.10 401.17,194.20 403.44,194.38 401.71,195.86 402.24,198.07 400.30,196.89 398.36,198.07 398.89,195.86 397.16,194.38 399.43,194.20" fill="#3C9C9C" stroke="#3C9C9C" stroke-width="0.6"/>
<polygon points="434.20,203.60 435.07,205.70 437.34,205.88 435.61,207.36 436.14,209.57 434.20,208.39 432.26,209.57 432.79,207.36 431.06,205.88 433.33,205.70" fill="#3C9C9C" stroke="#3C9C9C" stroke-width="0.6"/>
<polygon points="468.00,215.00 468.87,217.10 471.14,217.28 469.41,218.76 469.94,220.97 468.00,219.79 466.06,220.97 466.59,218.76 464.86,217.28 467.13,217.10" fill="#3C9C9C" stroke="#3C9C9C" stroke-width="0.6"/>
<polygon points="501.90,226.70 502.77,228.80 505.04,228.98 503.31,230.46 503.84,232.67 501.90,231.49 499.96,232.67 500.49,230.46 498.76,228.98 501.03,228.80" fill="#3C9C9C" stroke="#3C9C9C" stroke-width="0.6"/>
<polygon points="535.80,228.80 536.67,230.90 538.94,231.08 537.21,232.56 537.74,234.77 535.80,233.59 533.86,234.77 534.39,232.56 532.66,231.08 534.93,230.90" fill="#3C9C9C" stroke="#3C9C9C" stroke-width="0.6"/>
<polyline points="95.4,180.0 129.3,164.2 163.1,154.7 197.0,150.1 230.9,149.9 264.8,159.4 298.6,159.0 332.5,167.9 366.4,184.8 400.3,197.6 434.2,208.8 468.0,220.6 501.9,232.3 535.8,235.6" fill="none" stroke="#3C9C9C" stroke-width="1.4" stroke-dasharray="7.5 8"/>
<path d="M92.10000000000001,180.0H98.7M95.4,176.7V183.3M92.92500000000001,177.525L97.875,182.475M92.92500000000001,182.475L97.875,177.525" stroke="#3C9C9C" stroke-width="1.0"/>
<path d="M126.00000000000001,164.2H132.60000000000002M129.3,160.89999999999998V167.5M126.82500000000002,161.725L131.775,166.67499999999998M126.82500000000002,166.67499999999998L131.775,161.725" stroke="#3C9C9C" stroke-width="1.0"/>
<path d="M159.79999999999998,154.7H166.4M163.1,151.39999999999998V158.0M160.625,152.225L165.575,157.17499999999998M160.625,157.17499999999998L165.575,152.225" stroke="#3C9C9C" stroke-width="1.0"/>
<path d="M193.7,150.1H200.3M197.0,146.79999999999998V153.4M194.525,147.625L199.475,152.575M194.525,152.575L199.475,147.625" stroke="#3C9C9C" stroke-width="1.0"/>
<path d="M227.6,149.9H234.20000000000002M230.9,146.6V153.20000000000002M228.425,147.425L233.375,152.375M228.425,152.375L233.375,147.425" stroke="#3C9C9C" stroke-width="1.0"/>
<path d="M261.5,159.4H268.1M264.8,156.1V162.70000000000002M262.325,156.925L267.27500000000003,161.875M262.325,161.875L267.27500000000003,156.925" stroke="#3C9C9C" stroke-width="1.0"/>
<path d="M295.3,159.0H301.90000000000003M298.6,155.7V162.3M296.125,156.525L301.07500000000005,161.475M296.125,161.475L301.07500000000005,156.525" stroke="#3C9C9C" stroke-width="1.0"/>
<path d="M329.2,167.9H335.8M332.5,164.6V171.20000000000002M330.025,165.425L334.975,170.375M330.025,170.375L334.975,165.425" stroke="#3C9C9C" stroke-width="1.0"/>
<path d="M363.09999999999997,184.8H369.7M366.4,181.5V188.10000000000002M363.92499999999995,182.32500000000002L368.875,187.275M363.92499999999995,187.275L368.875,182.32500000000002" stroke="#3C9C9C" stroke-width="1.0"/>
<path d="M397.0,197.6H403.6M400.3,194.29999999999998V200.9M397.825,195.125L402.77500000000003,200.075M397.825,200.075L402.77500000000003,195.125" stroke="#3C9C9C" stroke-width="1.0"/>
<path d="M430.9,208.8H437.5M434.2,205.5V212.10000000000002M431.72499999999997,206.32500000000002L436.675,211.275M431.72499999999997,211.275L436.675,206.32500000000002" stroke="#3C9C9C" stroke-width="1.0"/>
<path d="M464.7,220.6H471.3M468.0,217.29999999999998V223.9M465.525,218.125L470.475,223.075M465.525,223.075L470.475,218.125" stroke="#3C9C9C" stroke-width="1.0"/>
<path d="M498.59999999999997,232.3H505.2M501.9,229.0V235.60000000000002M499.42499999999995,229.82500000000002L504.375,234.775M499.42499999999995,234.775L504.375,229.82500000000002" stroke="#3C9C9C" stroke-width="1.0"/>
<path d="M532.5,235.6H539.0999999999999M535.8,232.29999999999998V238.9M533.3249999999999,233.125L538.275,238.075M533.3249999999999,238.075L538.275,233.125" stroke="#3C9C9C" stroke-width="1.0"/>
</g>
<g>
<polyline points="86.5,351.3 111.5,353.6 136.5,349.9 161.5,335.2 186.5,324.0 211.5,316.0 236.5,311.7 261.5,324.0 286.5,308.6 311.5,327.0 336.5,306.8 361.5,308.6 386.5,309.7 411.5,314.0 436.5,322.8 461.5,328.6 486.5,333.0 511.5,333.0" fill="none" stroke="#DDA070" stroke-width="1.4" stroke-dasharray="7.5 8"/>
<path d="M83.365,351.3L86.5,348.165L89.635,351.3L86.5,354.435Z" fill="none" stroke="#DDA070" stroke-width="1.0"/>
<path d="M108.365,353.6L111.5,350.46500000000003L114.635,353.6L111.5,356.735Z" fill="none" stroke="#DDA070" stroke-width="1.0"/>
<path d="M133.365,349.9L136.5,346.765L139.635,349.9L136.5,353.03499999999997Z" fill="none" stroke="#DDA070" stroke-width="1.0"/>
<path d="M158.365,335.2L161.5,332.065L164.635,335.2L161.5,338.335Z" fill="none" stroke="#DDA070" stroke-width="1.0"/>
<path d="M183.365,324L186.5,320.865L189.635,324L186.5,327.135Z" fill="none" stroke="#DDA070" stroke-width="1.0"/>
<path d="M208.365,316L211.5,312.865L214.635,316L211.5,319.135Z" fill="none" stroke="#DDA070" stroke-width="1.0"/>
<path d="M233.365,311.7L236.5,308.565L239.635,311.7L236.5,314.835Z" fill="none" stroke="#DDA070" stroke-width="1.0"/>
<path d="M258.365,324L261.5,320.865L264.635,324L261.5,327.135Z" fill="none" stroke="#DDA070" stroke-width="1.0"/>
<path d="M283.365,308.6L286.5,305.46500000000003L289.635,308.6L286.5,311.735Z" fill="none" stroke="#DDA070" stroke-width="1.0"/>
<path d="M308.365,327L311.5,323.865L314.635,327L311.5,330.135Z" fill="none" stroke="#DDA070" stroke-width="1.0"/>
<path d="M333.365,306.8L336.5,303.665L339.635,306.8L336.5,309.935Z" fill="none" stroke="#DDA070" stroke-width="1.0"/>
<path d="M358.365,308.6L361.5,305.46500000000003L364.635,308.6L361.5,311.735Z" fill="none" stroke="#DDA070" stroke-width="1.0"/>
<path d="M383.365,309.7L386.5,306.565L389.635,309.7L386.5,312.835Z" fill="none" stroke="#DDA070" stroke-width="1.0"/>
<path d="M408.365,314L411.5,310.865L414.635,314L411.5,317.135Z" fill="none" stroke="#DDA070" stroke-width="1.0"/>
<path d="M433.365,322.8L436.5,319.665L439.635,322.8L436.5,325.935Z" fill="none" stroke="#DDA070" stroke-width="1.0"/>
<path d="M458.365,328.6L461.5,325.46500000000003L464.635,328.6L461.5,331.735Z" fill="none" stroke="#DDA070" stroke-width="1.0"/>
<path d="M483.365,333L486.5,329.865L489.635,333L486.5,336.135Z" fill="none" stroke="#DDA070" stroke-width="1.0"/>
<path d="M508.365,333L511.5,329.865L514.635,333L511.5,336.135Z" fill="none" stroke="#DDA070" stroke-width="1.0"/>
<polyline points="86.5,372.9 111.5,373.0 136.5,356.0 161.5,341.2 186.5,325.6 211.5,316.5 236.5,312.5 261.5,326.0 286.5,310.0 311.5,328.0 336.5,308.0 361.5,312.3 386.5,313.0 411.5,314.5 436.5,323.0 461.5,328.0 486.5,333.5 511.5,334.0" fill="none" stroke="#DDA070" stroke-width="1.4" stroke-dasharray="7.5 8"/>
<path d="M83.365,372.9H89.635M86.5,369.765V376.03499999999997" stroke="#E59050" stroke-width="1.3"/>
<path d="M108.365,373H114.635M111.5,369.865V376.135" stroke="#E59050" stroke-width="1.3"/>
<path d="M133.365,356H139.635M136.5,352.865V359.135" stroke="#E59050" stroke-width="1.3"/>
<path d="M158.365,341.2H164.635M161.5,338.065V344.335" stroke="#E59050" stroke-width="1.3"/>
<path d="M183.365,325.6H189.635M186.5,322.46500000000003V328.735" stroke="#E59050" stroke-width="1.3"/>
<path d="M208.365,316.5H214.635M211.5,313.365V319.635" stroke="#E59050" stroke-width="1.3"/>
<path d="M233.365,312.5H239.635M236.5,309.365V315.635" stroke="#E59050" stroke-width="1.3"/>
<path d="M258.365,326H264.635M261.5,322.865V329.135" stroke="#E59050" stroke-width="1.3"/>
<path d="M283.365,310H289.635M286.5,306.865V313.135" stroke="#E59050" stroke-width="1.3"/>
<path d="M308.365,328H314.635M311.5,324.865V331.135" stroke="#E59050" stroke-width="1.3"/>
<path d="M333.365,308H339.635M336.5,304.865V311.135" stroke="#E59050" stroke-width="1.3"/>
<path d="M358.365,312.3H364.635M361.5,309.165V315.435" stroke="#E59050" stroke-width="1.3"/>
<path d="M383.365,313H389.635M386.5,309.865V316.135" stroke="#E59050" stroke-width="1.3"/>
<path d="M408.365,314.5H414.635M411.5,311.365V317.635" stroke="#E59050" stroke-width="1.3"/>
<path d="M433.365,323H439.635M436.5,319.865V326.135" stroke="#E59050" stroke-width="1.3"/>
<path d="M458.365,328H464.635M461.5,324.865V331.135" stroke="#E59050" stroke-width="1.3"/>
<path d="M483.365,333.5H489.635M486.5,330.365V336.635" stroke="#E59050" stroke-width="1.3"/>
<path d="M508.365,334H514.635M511.5,330.865V337.135" stroke="#E59050" stroke-width="1.3"/>
<polyline points="86.5,318.9 111.5,407.1 136.5,327.7 161.5,303.0 186.5,297.8 211.5,305.7 236.5,304.2 261.5,325.6 286.5,303.2 311.5,328.0 336.5,302.3 361.5,303.2 386.5,306.0 411.5,309.7 436.5,318.5 461.5,323.4 486.5,329.2 511.5,328.6" fill="none" stroke="#DDA070" stroke-width="1.4" stroke-dasharray="7.5 8"/>
<path d="M82.89,318.9L86.5,315.28999999999996L90.11,318.9L86.5,322.51Z" fill="#F0620A" stroke="#F0620A" stroke-width="0.8"/>
<path d="M107.89,407.1L111.5,403.49L115.11,407.1L111.5,410.71000000000004Z" fill="#F0620A" stroke="#F0620A" stroke-width="0.8"/>
<path d="M132.89,327.7L136.5,324.09L140.11,327.7L136.5,331.31Z" fill="#F0620A" stroke="#F0620A" stroke-width="0.8"/>
<path d="M157.89,303L161.5,299.39L165.11,303L161.5,306.61Z" fill="#F0620A" stroke="#F0620A" stroke-width="0.8"/>
<path d="M182.89,297.8L186.5,294.19L190.11,297.8L186.5,301.41Z" fill="#F0620A" stroke="#F0620A" stroke-width="0.8"/>
<path d="M207.89,305.7L211.5,302.09L215.11,305.7L211.5,309.31Z" fill="#F0620A" stroke="#F0620A" stroke-width="0.8"/>
<path d="M232.89,304.2L236.5,300.59L240.11,304.2L236.5,307.81Z" fill="#F0620A" stroke="#F0620A" stroke-width="0.8"/>
<path d="M257.89,325.6L261.5,321.99L265.11,325.6L261.5,329.21000000000004Z" fill="#F0620A" stroke="#F0620A" stroke-width="0.8"/>
<path d="M282.89,303.2L286.5,299.59L290.11,303.2L286.5,306.81Z" fill="#F0620A" stroke="#F0620A" stroke-width="0.8"/>
<path d="M307.89,328L311.5,324.39L315.11,328L311.5,331.61Z" fill="#F0620A" stroke="#F0620A" stroke-width="0.8"/>
<path d="M332.89,302.3L336.5,298.69L340.11,302.3L336.5,305.91Z" fill="#F0620A" stroke="#F0620A" stroke-width="0.8"/>
<path d="M357.89,303.2L361.5,299.59L365.11,303.2L361.5,306.81Z" fill="#F0620A" stroke="#F0620A" stroke-width="0.8"/>
<path d="M382.89,306L386.5,302.39L390.11,306L386.5,309.61Z" fill="#F0620A" stroke="#F0620A" stroke-width="0.8"/>
<path d="M407.89,309.7L411.5,306.09L415.11,309.7L411.5,313.31Z" fill="#F0620A" stroke="#F0620A" stroke-width="0.8"/>
<path d="M432.89,318.5L436.5,314.89L440.11,318.5L436.5,322.11Z" fill="#F0620A" stroke="#F0620A" stroke-width="0.8"/>
<path d="M457.89,323.4L461.5,319.78999999999996L465.11,323.4L461.5,327.01Z" fill="#F0620A" stroke="#F0620A" stroke-width="0.8"/>
<path d="M482.89,329.2L486.5,325.59L490.11,329.2L486.5,332.81Z" fill="#F0620A" stroke="#F0620A" stroke-width="0.8"/>
<path d="M507.89,328.6L511.5,324.99L515.11,328.6L511.5,332.21000000000004Z" fill="#F0620A" stroke="#F0620A" stroke-width="0.8"/>
<polyline points="86.5,400.4 111.5,452.0 136.5,365.0 161.5,366.5 186.5,350.0 211.5,331.0 236.5,327.0 261.5,362.0 286.5,326.0 311.5,329.0 336.5,326.0 361.5,337.7 386.5,328.6 411.5,328.6 436.5,335.9 461.5,337.4 486.5,338.8 511.5,337.4" fill="none" stroke="#2236D0" stroke-width="1.4"/>
<path d="M83.365,402.90799999999996L86.5,397.265L89.635,402.90799999999996Z" fill="none" stroke="#2236D0" stroke-width="1.0"/>
<path d="M108.365,454.508L111.5,448.865L114.635,454.508Z" fill="none" stroke="#2236D0" stroke-width="1.0"/>
<path d="M133.365,367.508L136.5,361.865L139.635,367.508Z" fill="none" stroke="#2236D0" stroke-width="1.0"/>
<path d="M158.365,369.008L161.5,363.365L164.635,369.008Z" fill="none" stroke="#2236D0" stroke-width="1.0"/>
<path d="M183.365,352.508L186.5,346.865L189.635,352.508Z" fill="none" stroke="#2236D0" stroke-width="1.0"/>
<path d="M208.365,333.508L211.5,327.865L214.635,333.508Z" fill="none" stroke="#2236D0" stroke-width="1.0"/>
<path d="M233.365,329.508L236.5,323.865L239.635,329.508Z" fill="none" stroke="#2236D0" stroke-width="1.0"/>
<path d="M258.365,364.508L261.5,358.865L264.635,364.508Z" fill="none" stroke="#2236D0" stroke-width="1.0"/>
<path d="M283.365,328.508L286.5,322.865L289.635,328.508Z" fill="none" stroke="#2236D0" stroke-width="1.0"/>
<path d="M308.365,331.508L311.5,325.865L314.635,331.508Z" fill="none" stroke="#2236D0" stroke-width="1.0"/>
<path d="M333.365,328.508L336.5,322.865L339.635,328.508Z" fill="none" stroke="#2236D0" stroke-width="1.0"/>
<path d="M358.365,340.20799999999997L361.5,334.565L364.635,340.20799999999997Z" fill="none" stroke="#2236D0" stroke-width="1.0"/>
<path d="M383.365,331.108L386.5,325.46500000000003L389.635,331.108Z" fill="none" stroke="#2236D0" stroke-width="1.0"/>
<path d="M408.365,331.108L411.5,325.46500000000003L414.635,331.108Z" fill="none" stroke="#2236D0" stroke-width="1.0"/>
<path d="M433.365,338.40799999999996L436.5,332.765L439.635,338.40799999999996Z" fill="none" stroke="#2236D0" stroke-width="1.0"/>
<path d="M458.365,339.90799999999996L461.5,334.265L464.635,339.90799999999996Z" fill="none" stroke="#2236D0" stroke-width="1.0"/>
<path d="M483.365,341.308L486.5,335.665L489.635,341.308Z" fill="none" stroke="#2236D0" stroke-width="1.0"/>
<path d="M508.365,339.90799999999996L511.5,334.265L514.635,339.90799999999996Z" fill="none" stroke="#2236D0" stroke-width="1.0"/>
<polyline points="86.5,402.3 111.5,448.8 136.5,366.1 161.5,367.1 186.5,350.6 211.5,332.3 236.5,328.5 261.5,366.0 286.5,327.2 311.5,330.2 336.5,327.2 361.5,338.6 386.5,329.7 411.5,329.7 436.5,335.9 461.5,337.4 486.5,338.8 511.5,338.1" fill="none" stroke="#2A2ACC" stroke-width="1.4"/>
<circle cx="86.5" cy="402.3" r="2.8215" fill="none" stroke="#2A2ACC" stroke-width="1.0"/>
<circle cx="111.5" cy="448.8" r="2.8215" fill="none" stroke="#2A2ACC" stroke-width="1.0"/>
<circle cx="136.5" cy="366.1" r="2.8215" fill="none" stroke="#2A2ACC" stroke-width="1.0"/>
<circle cx="161.5" cy="367.1" r="2.8215" fill="none" stroke="#2A2ACC" stroke-width="1.0"/>
<circle cx="186.5" cy="350.6" r="2.8215" fill="none" stroke="#2A2ACC" stroke-width="1.0"/>
<circle cx="211.5" cy="332.3" r="2.8215" fill="none" stroke="#2A2ACC" stroke-width="1.0"/>
<circle cx="236.5" cy="328.5" r="2.8215" fill="none" stroke="#2A2ACC" stroke-width="1.0"/>
<circle cx="261.5" cy="366.0" r="2.8215" fill="none" stroke="#2A2ACC" stroke-width="1.0"/>
<circle cx="286.5" cy="327.2" r="2.8215" fill="none" stroke="#2A2ACC" stroke-width="1.0"/>
<circle cx="311.5" cy="330.2" r="2.8215" fill="none" stroke="#2A2ACC" stroke-width="1.0"/>
<circle cx="336.5" cy="327.2" r="2.8215" fill="none" stroke="#2A2ACC" stroke-width="1.0"/>
<circle cx="361.5" cy="338.6" r="2.8215" fill="none" stroke="#2A2ACC" stroke-width="1.0"/>
<circle cx="386.5" cy="329.7" r="2.8215" fill="none" stroke="#2A2ACC" stroke-width="1.0"/>
<circle cx="411.5" cy="329.7" r="2.8215" fill="none" stroke="#2A2ACC" stroke-width="1.0"/>
<circle cx="436.5" cy="335.9" r="2.8215" fill="none" stroke="#2A2ACC" stroke-width="1.0"/>
<circle cx="461.5" cy="337.4" r="2.8215" fill="none" stroke="#2A2ACC" stroke-width="1.0"/>
<circle cx="486.5" cy="338.8" r="2.8215" fill="none" stroke="#2A2ACC" stroke-width="1.0"/>
<circle cx="511.5" cy="338.1" r="2.8215" fill="none" stroke="#2A2ACC" stroke-width="1.0"/>
<polyline points="86.5,404.2 111.5,452.5 136.5,367.2 161.5,367.6 186.5,351.1 211.5,333.6 236.5,330.0 261.5,370.0 286.5,328.5 311.5,331.5 336.5,328.5 361.5,339.5 386.5,330.8 411.5,330.8 436.5,335.9 461.5,337.4 486.5,338.8 511.5,338.9" fill="none" stroke="#2C4CD8" stroke-width="1.4"/>
<path d="M89.008,401.065L83.365,404.2L89.008,407.335Z" fill="none" stroke="#2C4CD8" stroke-width="1.0"/>
<path d="M114.008,449.365L108.365,452.5L114.008,455.635Z" fill="none" stroke="#2C4CD8" stroke-width="1.0"/>
<path d="M139.008,364.065L133.365,367.2L139.008,370.335Z" fill="none" stroke="#2C4CD8" stroke-width="1.0"/>
<path d="M164.008,364.46500000000003L158.365,367.6L164.008,370.735Z" fill="none" stroke="#2C4CD8" stroke-width="1.0"/>
<path d="M189.008,347.96500000000003L183.365,351.1L189.008,354.235Z" fill="none" stroke="#2C4CD8" stroke-width="1.0"/>
<path d="M214.008,330.46500000000003L208.365,333.6L214.008,336.735Z" fill="none" stroke="#2C4CD8" stroke-width="1.0"/>
<path d="M239.008,326.865L233.365,330.0L239.008,333.135Z" fill="none" stroke="#2C4CD8" stroke-width="1.0"/>
<path d="M264.008,366.865L258.365,370.0L264.008,373.135Z" fill="none" stroke="#2C4CD8" stroke-width="1.0"/>
<path d="M289.008,325.365L283.365,328.5L289.008,331.635Z" fill="none" stroke="#2C4CD8" stroke-width="1.0"/>
<path d="M314.008,328.365L308.365,331.5L314.008,334.635Z" fill="none" stroke="#2C4CD8" stroke-width="1.0"/>
<path d="M339.008,325.365L333.365,328.5L339.008,331.635Z" fill="none" stroke="#2C4CD8" stroke-width="1.0"/>
<path d="M364.008,336.365L358.365,339.5L364.008,342.635Z" fill="none" stroke="#2C4CD8" stroke-width="1.0"/>
<path d="M389.008,327.665L383.365,330.8L389.008,333.935Z" fill="none" stroke="#2C4CD8" stroke-width="1.0"/>
<path d="M414.008,327.665L408.365,330.8L414.008,333.935Z" fill="none" stroke="#2C4CD8" stroke-width="1.0"/>
<path d="M439.008,332.765L433.365,335.9L439.008,339.03499999999997Z" fill="none" stroke="#2C4CD8" stroke-width="1.0"/>
<path d="M464.008,334.265L458.365,337.4L464.008,340.53499999999997Z" fill="none" stroke="#2C4CD8" stroke-width="1.0"/>
<path d="M489.008,335.665L483.365,338.8L489.008,341.935Z" fill="none" stroke="#2C4CD8" stroke-width="1.0"/>
<path d="M514.008,335.765L508.365,338.9L514.008,342.03499999999997Z" fill="none" stroke="#2C4CD8" stroke-width="1.0"/>
<polyline points="86.5,406.1 111.5,456.2 136.5,368.3 161.5,368.1 186.5,351.7 211.5,335.0 236.5,331.5 261.5,374.0 286.5,329.8 311.5,332.8 336.5,329.8 361.5,340.5 386.5,331.9 411.5,331.9 436.5,335.9 461.5,337.4 486.5,338.8 511.5,339.6" fill="none" stroke="#2020C4" stroke-width="1.4"/>
<path d="M83.365,402.96500000000003L89.635,409.235M83.365,409.235L89.635,402.96500000000003" stroke="#2020C4" stroke-width="1.0"/>
<path d="M108.365,453.065L114.635,459.335M108.365,459.335L114.635,453.065" stroke="#2020C4" stroke-width="1.0"/>
<path d="M133.365,365.165L139.635,371.435M133.365,371.435L139.635,365.165" stroke="#2020C4" stroke-width="1.0"/>
<path d="M158.365,364.96500000000003L164.635,371.235M158.365,371.235L164.635,364.96500000000003" stroke="#2020C4" stroke-width="1.0"/>
<path d="M183.365,348.565L189.635,354.835M183.365,354.835L189.635,348.565" stroke="#2020C4" stroke-width="1.0"/>
<path d="M208.365,331.865L214.635,338.135M208.365,338.135L214.635,331.865" stroke="#2020C4" stroke-width="1.0"/>
<path d="M233.365,328.365L239.635,334.635M233.365,334.635L239.635,328.365" stroke="#2020C4" stroke-width="1.0"/>
<path d="M258.365,370.865L264.635,377.135M258.365,377.135L264.635,370.865" stroke="#2020C4" stroke-width="1.0"/>
<path d="M283.365,326.665L289.635,332.935M283.365,332.935L289.635,326.665" stroke="#2020C4" stroke-width="1.0"/>
<path d="M308.365,329.665L314.635,335.935M308.365,335.935L314.635,329.665" stroke="#2020C4" stroke-width="1.0"/>
<path d="M333.365,326.665L339.635,332.935M333.365,332.935L339.635,326.665" stroke="#2020C4" stroke-width="1.0"/>
<path d="M358.365,337.365L364.635,343.635M358.365,343.635L364.635,337.365" stroke="#2020C4" stroke-width="1.0"/>
<path d="M383.365,328.765L389.635,335.03499999999997M383.365,335.03499999999997L389.635,328.765" stroke="#2020C4" stroke-width="1.0"/>
<path d="M408.365,328.765L414.635,335.03499999999997M408.365,335.03499999999997L414.635,328.765" stroke="#2020C4" stroke-width="1.0"/>
<path d="M433.365,332.765L439.635,339.03499999999997M433.365,339.03499999999997L439.635,332.765" stroke="#2020C4" stroke-width="1.0"/>
<path d="M458.365,334.265L464.635,340.53499999999997M458.365,340.53499999999997L464.635,334.265" stroke="#2020C4" stroke-width="1.0"/>
<path d="M483.365,335.665L489.635,341.935M483.365,341.935L489.635,335.665" stroke="#2020C4" stroke-width="1.0"/>
<path d="M508.365,336.46500000000003L514.635,342.735M508.365,342.735L514.635,336.46500000000003" stroke="#2020C4" stroke-width="1.0"/>
<polyline points="86.5,408.0 111.5,460.0 136.5,369.4 161.5,368.7 186.5,352.3 211.5,336.3 236.5,333.0 261.5,378.0 286.5,331.0 311.5,334.0 336.5,331.0 361.5,341.4 386.5,333.0 411.5,333.0 436.5,335.9 461.5,337.4 486.5,338.8 511.5,340.3" fill="none" stroke="#4A4AB0" stroke-width="1.4"/>
<polygon points="89.64,408.00 88.07,410.31 84.93,410.31 83.36,408.00 84.93,405.69 88.07,405.69" fill="none" stroke="#4A4AB0" stroke-width="1.2"/>
<polygon points="114.64,460.00 113.07,462.31 109.93,462.31 108.36,460.00 109.93,457.69 113.07,457.69" fill="none" stroke="#4A4AB0" stroke-width="1.2"/>
<polygon points="139.63,369.40 138.07,371.71 134.93,371.71 133.37,369.40 134.93,367.09 138.07,367.09" fill="none" stroke="#4A4AB0" stroke-width="1.2"/>
<polygon points="164.63,368.70 163.07,371.01 159.93,371.01 158.37,368.70 159.93,366.39 163.07,366.39" fill="none" stroke="#4A4AB0" stroke-width="1.2"/>
<polygon points="189.63,352.30 188.07,354.61 184.93,354.61 183.37,352.30 184.93,349.99 188.07,349.99" fill="none" stroke="#4A4AB0" stroke-width="1.2"/>
<polygon points="214.63,336.30 213.07,338.61 209.93,338.61 208.37,336.30 209.93,333.99 213.07,333.99" fill="none" stroke="#4A4AB0" stroke-width="1.2"/>
<polygon points="239.63,333.00 238.07,335.31 234.93,335.31 233.37,333.00 234.93,330.69 238.07,330.69" fill="none" stroke="#4A4AB0" stroke-width="1.2"/>
<polygon points="264.63,378.00 263.07,380.31 259.93,380.31 258.37,378.00 259.93,375.69 263.07,375.69" fill="none" stroke="#4A4AB0" stroke-width="1.2"/>
<polygon points="289.63,331.00 288.07,333.31 284.93,333.31 283.37,331.00 284.93,328.69 288.07,328.69" fill="none" stroke="#4A4AB0" stroke-width="1.2"/>
<polygon points="314.63,334.00 313.07,336.31 309.93,336.31 308.37,334.00 309.93,331.69 313.07,331.69" fill="none" stroke="#4A4AB0" stroke-width="1.2"/>
<polygon points="339.63,331.00 338.07,333.31 334.93,333.31 333.37,331.00 334.93,328.69 338.07,328.69" fill="none" stroke="#4A4AB0" stroke-width="1.2"/>
<polygon points="364.63,341.40 363.07,343.71 359.93,343.71 358.37,341.40 359.93,339.09 363.07,339.09" fill="none" stroke="#4A4AB0" stroke-width="1.2"/>
<polygon points="389.63,333.00 388.07,335.31 384.93,335.31 383.37,333.00 384.93,330.69 388.07,330.69" fill="none" stroke="#4A4AB0" stroke-width="1.2"/>
<polygon points="414.63,333.00 413.07,335.31 409.93,335.31 408.37,333.00 409.93,330.69 413.07,330.69" fill="none" stroke="#4A4AB0" stroke-width="1.2"/>
<polygon points="439.63,335.90 438.07,338.21 434.93,338.21 433.37,335.90 434.93,333.59 438.07,333.59" fill="none" stroke="#4A4AB0" stroke-width="1.2"/>
<polygon points="464.63,337.40 463.07,339.71 459.93,339.71 458.37,337.40 459.93,335.09 463.07,335.09" fill="none" stroke="#4A4AB0" stroke-width="1.2"/>
<polygon points="489.63,338.80 488.07,341.11 484.93,341.11 483.37,338.80 484.93,336.49 488.07,336.49" fill="none" stroke="#4A4AB0" stroke-width="1.2"/>
<polygon points="514.63,340.30 513.07,342.61 509.93,342.61 508.37,340.30 509.93,337.99 513.07,337.99" fill="none" stroke="#4A4AB0" stroke-width="1.2"/>
<polyline points="86.5,375.9 111.5,390.0 136.5,377.3 161.5,367.0 186.5,347.1 211.5,326.0 236.5,321.0 261.5,342.0 286.5,320.0 311.5,344.0 336.5,320.0 361.5,316.0 386.5,322.0 411.5,323.0 436.5,325.7 461.5,333.0 486.5,341.7 511.5,344.6" fill="none" stroke="#7FAA8F" stroke-width="1.4" stroke-dasharray="7.5 8"/>
<path d="M83.365,375.9H89.635M86.5,372.765V379.03499999999997" stroke="#0F8A3A" stroke-width="2.6"/>
<path d="M108.365,390H114.635M111.5,386.865V393.135" stroke="#0F8A3A" stroke-width="2.6"/>
<path d="M133.365,377.3H139.635M136.5,374.165V380.435" stroke="#0F8A3A" stroke-width="2.6"/>
<path d="M158.365,367H164.635M161.5,363.865V370.135" stroke="#0F8A3A" stroke-width="2.6"/>
<path d="M183.365,347.1H189.635M186.5,343.96500000000003V350.235" stroke="#0F8A3A" stroke-width="2.6"/>
<path d="M208.365,326H214.635M211.5,322.865V329.135" stroke="#0F8A3A" stroke-width="2.6"/>
<path d="M233.365,321H239.635M236.5,317.865V324.135" stroke="#0F8A3A" stroke-width="2.6"/>
<path d="M258.365,342H264.635M261.5,338.865V345.135" stroke="#0F8A3A" stroke-width="2.6"/>
<path d="M283.365,320H289.635M286.5,316.865V323.135" stroke="#0F8A3A" stroke-width="2.6"/>
<path d="M308.365,344H314.635M311.5,340.865V347.135" stroke="#0F8A3A" stroke-width="2.6"/>
<path d="M333.365,320H339.635M336.5,316.865V323.135" stroke="#0F8A3A" stroke-width="2.6"/>
<path d="M358.365,316H364.635M361.5,312.865V319.135" stroke="#0F8A3A" stroke-width="2.6"/>
<path d="M383.365,322H389.635M386.5,318.865V325.135" stroke="#0F8A3A" stroke-width="2.6"/>
<path d="M408.365,323H414.635M411.5,319.865V326.135" stroke="#0F8A3A" stroke-width="2.6"/>
<path d="M433.365,325.7H439.635M436.5,322.565V328.835" stroke="#0F8A3A" stroke-width="2.6"/>
<path d="M458.365,333H464.635M461.5,329.865V336.135" stroke="#0F8A3A" stroke-width="2.6"/>
<path d="M483.365,341.7H489.635M486.5,338.565V344.835" stroke="#0F8A3A" stroke-width="2.6"/>
<path d="M508.365,344.6H514.635M511.5,341.46500000000003V347.735" stroke="#0F8A3A" stroke-width="2.6"/>
<polyline points="86.5,341.7 111.5,375.1 136.5,358.0 161.5,347.1 186.5,338.2 211.5,323.5 236.5,318.1 261.5,340.0 286.5,318.0 311.5,348.6 336.5,318.0 361.5,316.0 386.5,320.0 411.5,322.0 436.5,324.5 461.5,331.0 486.5,338.0 511.5,342.0" fill="none" stroke="#7FAA8F" stroke-width="1.4" stroke-dasharray="7.5 8"/>
<circle cx="86.5" cy="341.7" r="2.8215" fill="none" stroke="#3A8C78" stroke-width="1.0"/>
<circle cx="111.5" cy="375.1" r="2.8215" fill="none" stroke="#3A8C78" stroke-width="1.0"/>
<circle cx="136.5" cy="358" r="2.8215" fill="none" stroke="#3A8C78" stroke-width="1.0"/>
<circle cx="161.5" cy="347.1" r="2.8215" fill="none" stroke="#3A8C78" stroke-width="1.0"/>
<circle cx="186.5" cy="338.2" r="2.8215" fill="none" stroke="#3A8C78" stroke-width="1.0"/>
<circle cx="211.5" cy="323.5" r="2.8215" fill="none" stroke="#3A8C78" stroke-width="1.0"/>
<circle cx="236.5" cy="318.1" r="2.8215" fill="none" stroke="#3A8C78" stroke-width="1.0"/>
<circle cx="261.5" cy="340" r="2.8215" fill="none" stroke="#3A8C78" stroke-width="1.0"/>
<circle cx="286.5" cy="318" r="2.8215" fill="none" stroke="#3A8C78" stroke-width="1.0"/>
<circle cx="311.5" cy="348.6" r="2.8215" fill="none" stroke="#3A8C78" stroke-width="1.0"/>
<circle cx="336.5" cy="318" r="2.8215" fill="none" stroke="#3A8C78" stroke-width="1.0"/>
<circle cx="361.5" cy="316" r="2.8215" fill="none" stroke="#3A8C78" stroke-width="1.0"/>
<circle cx="386.5" cy="320" r="2.8215" fill="none" stroke="#3A8C78" stroke-width="1.0"/>
<circle cx="411.5" cy="322" r="2.8215" fill="none" stroke="#3A8C78" stroke-width="1.0"/>
<circle cx="436.5" cy="324.5" r="2.8215" fill="none" stroke="#3A8C78" stroke-width="1.0"/>
<circle cx="461.5" cy="331" r="2.8215" fill="none" stroke="#3A8C78" stroke-width="1.0"/>
<circle cx="486.5" cy="338" r="2.8215" fill="none" stroke="#3A8C78" stroke-width="1.0"/>
<circle cx="511.5" cy="342" r="2.8215" fill="none" stroke="#3A8C78" stroke-width="1.0"/>
<polyline points="86.5,290.2 111.5,367.0 136.5,324.3 161.5,310.2 186.5,296.3 211.5,299.5 236.5,294.6 261.5,336.3 286.5,295.9 311.5,326.8 336.5,295.9 361.5,295.0 386.5,302.5 411.5,303.9 436.5,315.5 461.5,322.8 486.5,328.6 511.5,330.1" fill="none" stroke="#66CC66" stroke-width="1.4"/>
<rect x="83.365" y="287.065" width="6.27" height="6.27" fill="none" stroke="#66CC66" stroke-width="1.0"/>
<rect x="108.365" y="363.865" width="6.27" height="6.27" fill="none" stroke="#66CC66" stroke-width="1.0"/>
<rect x="133.365" y="321.165" width="6.27" height="6.27" fill="none" stroke="#66CC66" stroke-width="1.0"/>
<rect x="158.365" y="307.065" width="6.27" height="6.27" fill="none" stroke="#66CC66" stroke-width="1.0"/>
<rect x="183.365" y="293.165" width="6.27" height="6.27" fill="none" stroke="#66CC66" stroke-width="1.0"/>
<rect x="208.365" y="296.365" width="6.27" height="6.27" fill="none" stroke="#66CC66" stroke-width="1.0"/>
<rect x="233.365" y="291.46500000000003" width="6.27" height="6.27" fill="none" stroke="#66CC66" stroke-width="1.0"/>
<rect x="258.365" y="333.165" width="6.27" height="6.27" fill="none" stroke="#66CC66" stroke-width="1.0"/>
<rect x="283.365" y="292.765" width="6.27" height="6.27" fill="none" stroke="#66CC66" stroke-width="1.0"/>
<rect x="308.365" y="323.665" width="6.27" height="6.27" fill="none" stroke="#66CC66" stroke-width="1.0"/>
<rect x="333.365" y="292.765" width="6.27" height="6.27" fill="none" stroke="#66CC66" stroke-width="1.0"/>
<rect x="358.365" y="291.865" width="6.27" height="6.27" fill="none" stroke="#66CC66" stroke-width="1.0"/>
<rect x="383.365" y="299.365" width="6.27" height="6.27" fill="none" stroke="#66CC66" stroke-width="1.0"/>
<rect x="408.365" y="300.765" width="6.27" height="6.27" fill="none" stroke="#66CC66" stroke-width="1.0"/>
<rect x="433.365" y="312.365" width="6.27" height="6.27" fill="none" stroke="#66CC66" stroke-width="1.0"/>
<rect x="458.365" y="319.665" width="6.27" height="6.27" fill="none" stroke="#66CC66" stroke-width="1.0"/>
<rect x="483.365" y="325.46500000000003" width="6.27" height="6.27" fill="none" stroke="#66CC66" stroke-width="1.0"/>
<rect x="508.365" y="326.96500000000003" width="6.27" height="6.27" fill="none" stroke="#66CC66" stroke-width="1.0"/>
<polyline points="86.5,378.0 111.5,384.0 136.5,357.0 161.5,362.0 186.5,354.5 211.5,328.0 236.5,322.0 261.5,362.0 286.5,316.0 311.5,330.0 336.5,314.0 361.5,318.0 386.5,315.0 411.5,321.0 436.5,334.5 461.5,344.6 486.5,356.3 511.5,357.7" fill="none" stroke="#45B5DD" stroke-width="1.4"/>
<path d="M83.365,378L86.5,374.865L89.635,378L86.5,381.135Z" fill="none" stroke="#45B5DD" stroke-width="1.0"/>
<path d="M108.365,384L111.5,380.865L114.635,384L111.5,387.135Z" fill="none" stroke="#45B5DD" stroke-width="1.0"/>
<path d="M133.365,357L136.5,353.865L139.635,357L136.5,360.135Z" fill="none" stroke="#45B5DD" stroke-width="1.0"/>
<path d="M158.365,362L161.5,358.865L164.635,362L161.5,365.135Z" fill="none" stroke="#45B5DD" stroke-width="1.0"/>
<path d="M183.365,354.5L186.5,351.365L189.635,354.5L186.5,357.635Z" fill="none" stroke="#45B5DD" stroke-width="1.0"/>
<path d="M208.365,328L211.5,324.865L214.635,328L211.5,331.135Z" fill="none" stroke="#45B5DD" stroke-width="1.0"/>
<path d="M233.365,322L236.5,318.865L239.635,322L236.5,325.135Z" fill="none" stroke="#45B5DD" stroke-width="1.0"/>
<path d="M258.365,362L261.5,358.865L264.635,362L261.5,365.135Z" fill="none" stroke="#45B5DD" stroke-width="1.0"/>
<path d="M283.365,316L286.5,312.865L289.635,316L286.5,319.135Z" fill="none" stroke="#45B5DD" stroke-width="1.0"/>
<path d="M308.365,330L311.5,326.865L314.635,330L311.5,333.135Z" fill="none" stroke="#45B5DD" stroke-width="1.0"/>
<path d="M333.365,314L336.5,310.865L339.635,314L336.5,317.135Z" fill="none" stroke="#45B5DD" stroke-width="1.0"/>
<path d="M358.365,318L361.5,314.865L364.635,318L361.5,321.135Z" fill="none" stroke="#45B5DD" stroke-width="1.0"/>
<path d="M383.365,315L386.5,311.865L389.635,315L386.5,318.135Z" fill="none" stroke="#45B5DD" stroke-width="1.0"/>
<path d="M408.365,321L411.5,317.865L414.635,321L411.5,324.135Z" fill="none" stroke="#45B5DD" stroke-width="1.0"/>
<path d="M433.365,334.5L436.5,331.365L439.635,334.5L436.5,337.635Z" fill="none" stroke="#45B5DD" stroke-width="1.0"/>
<path d="M458.365,344.6L461.5,341.46500000000003L464.635,344.6L461.5,347.735Z" fill="none" stroke="#45B5DD" stroke-width="1.0"/>
<path d="M483.365,356.3L486.5,353.165L489.635,356.3L486.5,359.435Z" fill="none" stroke="#45B5DD" stroke-width="1.0"/>
<path d="M508.365,357.7L511.5,354.565L514.635,357.7L511.5,360.835Z" fill="none" stroke="#45B5DD" stroke-width="1.0"/>
<polyline points="86.5,414.0 111.5,468.0 136.5,398.7 161.5,388.8 186.5,377.6 211.5,336.3 236.5,333.1 261.5,394.5 286.5,330.5 311.5,337.7 336.5,322.0 361.5,326.8 386.5,320.0 411.5,324.3 436.5,334.5 461.5,344.6 486.5,356.3 511.5,357.7" fill="none" stroke="#48B4E4" stroke-width="1.4"/>
<rect x="83.365" y="410.865" width="6.27" height="6.27" fill="none" stroke="#48B4E4" stroke-width="1.0"/>
<rect x="108.365" y="464.865" width="6.27" height="6.27" fill="none" stroke="#48B4E4" stroke-width="1.0"/>
<rect x="133.365" y="395.565" width="6.27" height="6.27" fill="none" stroke="#48B4E4" stroke-width="1.0"/>
<rect x="158.365" y="385.665" width="6.27" height="6.27" fill="none" stroke="#48B4E4" stroke-width="1.0"/>
<rect x="183.365" y="374.46500000000003" width="6.27" height="6.27" fill="none" stroke="#48B4E4" stroke-width="1.0"/>
<rect x="208.365" y="333.165" width="6.27" height="6.27" fill="none" stroke="#48B4E4" stroke-width="1.0"/>
<rect x="233.365" y="329.96500000000003" width="6.27" height="6.27" fill="none" stroke="#48B4E4" stroke-width="1.0"/>
<rect x="258.365" y="391.365" width="6.27" height="6.27" fill="none" stroke="#48B4E4" stroke-width="1.0"/>
<rect x="283.365" y="327.365" width="6.27" height="6.27" fill="none" stroke="#48B4E4" stroke-width="1.0"/>
<rect x="308.365" y="334.565" width="6.27" height="6.27" fill="none" stroke="#48B4E4" stroke-width="1.0"/>
<rect x="333.365" y="318.865" width="6.27" height="6.27" fill="none" stroke="#48B4E4" stroke-width="1.0"/>
<rect x="358.365" y="323.665" width="6.27" height="6.27" fill="none" stroke="#48B4E4" stroke-width="1.0"/>
<rect x="383.365" y="316.865" width="6.27" height="6.27" fill="none" stroke="#48B4E4" stroke-width="1.0"/>
<rect x="408.365" y="321.165" width="6.27" height="6.27" fill="none" stroke="#48B4E4" stroke-width="1.0"/>
<rect x="433.365" y="331.365" width="6.27" height="6.27" fill="none" stroke="#48B4E4" stroke-width="1.0"/>
<rect x="458.365" y="341.46500000000003" width="6.27" height="6.27" fill="none" stroke="#48B4E4" stroke-width="1.0"/>
<rect x="483.365" y="353.165" width="6.27" height="6.27" fill="none" stroke="#48B4E4" stroke-width="1.0"/>
<rect x="508.365" y="354.565" width="6.27" height="6.27" fill="none" stroke="#48B4E4" stroke-width="1.0"/>
<polyline points="86.5,412.2 111.5,476.0 136.5,396.9 161.5,387.6 186.5,374.9 211.5,334.9 236.5,331.2 261.5,390.6 286.5,328.0 311.5,336.3 336.5,320.8 361.5,325.2 386.5,319.1 411.5,323.7 436.5,334.5 461.5,344.6 486.5,356.3 511.5,357.7" fill="none" stroke="#3AA6E6" stroke-width="1.4"/>
<path d="M83.365,414.70799999999997L86.5,409.065L89.635,414.70799999999997Z" fill="none" stroke="#3AA6E6" stroke-width="1.0"/>
<path d="M108.365,478.508L111.5,472.865L114.635,478.508Z" fill="none" stroke="#3AA6E6" stroke-width="1.0"/>
<path d="M133.365,399.40799999999996L136.5,393.765L139.635,399.40799999999996Z" fill="none" stroke="#3AA6E6" stroke-width="1.0"/>
<path d="M158.365,390.108L161.5,384.46500000000003L164.635,390.108Z" fill="none" stroke="#3AA6E6" stroke-width="1.0"/>
<path d="M183.365,377.40799999999996L186.5,371.765L189.635,377.40799999999996Z" fill="none" stroke="#3AA6E6" stroke-width="1.0"/>
<path d="M208.365,337.40799999999996L211.5,331.765L214.635,337.40799999999996Z" fill="none" stroke="#3AA6E6" stroke-width="1.0"/>
<path d="M233.365,333.70799999999997L236.5,328.065L239.635,333.70799999999997Z" fill="none" stroke="#3AA6E6" stroke-width="1.0"/>
<path d="M258.365,393.108L261.5,387.46500000000003L264.635,393.108Z" fill="none" stroke="#3AA6E6" stroke-width="1.0"/>
<path d="M283.365,330.508L286.5,324.865L289.635,330.508Z" fill="none" stroke="#3AA6E6" stroke-width="1.0"/>
<path d="M308.365,338.808L311.5,333.165L314.635,338.808Z" fill="none" stroke="#3AA6E6" stroke-width="1.0"/>
<path d="M333.365,323.308L336.5,317.665L339.635,323.308Z" fill="none" stroke="#3AA6E6" stroke-width="1.0"/>
<path d="M358.365,327.70799999999997L361.5,322.065L364.635,327.70799999999997Z" fill="none" stroke="#3AA6E6" stroke-width="1.0"/>
<path d="M383.365,321.608L386.5,315.96500000000003L389.635,321.608Z" fill="none" stroke="#3AA6E6" stroke-width="1.0"/>
<path d="M408.365,326.20799999999997L411.5,320.565L414.635,326.20799999999997Z" fill="none" stroke="#3AA6E6" stroke-width="1.0"/>
<path d="M433.365,337.008L436.5,331.365L439.635,337.008Z" fill="none" stroke="#3AA6E6" stroke-width="1.0"/>
<path d="M458.365,347.108L461.5,341.46500000000003L464.635,347.108Z" fill="none" stroke="#3AA6E6" stroke-width="1.0"/>
<path d="M483.365,358.808L486.5,353.165L489.635,358.808Z" fill="none" stroke="#3AA6E6" stroke-width="1.0"/>
<path d="M508.365,360.20799999999997L511.5,354.565L514.635,360.20799999999997Z" fill="none" stroke="#3AA6E6" stroke-width="1.0"/>
<polyline points="86.5,410.4 111.5,467.6 136.5,395.0 161.5,386.3 186.5,377.6 211.5,333.4 236.5,329.3 261.5,385.0 286.5,325.6 311.5,335.0 336.5,319.6 361.5,323.6 386.5,318.2 411.5,323.0 436.5,334.5 461.5,344.6 486.5,356.3 511.5,357.7" fill="none" stroke="#3399E0" stroke-width="1.4"/>
<circle cx="86.5" cy="410.4" r="2.8215" fill="none" stroke="#3399E0" stroke-width="1.0"/>
<circle cx="111.5" cy="467.6" r="2.8215" fill="none" stroke="#3399E0" stroke-width="1.0"/>
<circle cx="136.5" cy="395.0" r="2.8215" fill="none" stroke="#3399E0" stroke-width="1.0"/>
<circle cx="161.5" cy="386.3" r="2.8215" fill="none" stroke="#3399E0" stroke-width="1.0"/>
<circle cx="186.5" cy="377.6" r="2.8215" fill="none" stroke="#3399E0" stroke-width="1.0"/>
<circle cx="211.5" cy="333.4" r="2.8215" fill="none" stroke="#3399E0" stroke-width="1.0"/>
<circle cx="236.5" cy="329.3" r="2.8215" fill="none" stroke="#3399E0" stroke-width="1.0"/>
<circle cx="261.5" cy="385.0" r="2.8215" fill="none" stroke="#3399E0" stroke-width="1.0"/>
<circle cx="286.5" cy="325.6" r="2.8215" fill="none" stroke="#3399E0" stroke-width="1.0"/>
<circle cx="311.5" cy="335.0" r="2.8215" fill="none" stroke="#3399E0" stroke-width="1.0"/>
<circle cx="336.5" cy="319.6" r="2.8215" fill="none" stroke="#3399E0" stroke-width="1.0"/>
<circle cx="361.5" cy="323.6" r="2.8215" fill="none" stroke="#3399E0" stroke-width="1.0"/>
<circle cx="386.5" cy="318.2" r="2.8215" fill="none" stroke="#3399E0" stroke-width="1.0"/>
<circle cx="411.5" cy="323.0" r="2.8215" fill="none" stroke="#3399E0" stroke-width="1.0"/>
<circle cx="436.5" cy="334.5" r="2.8215" fill="none" stroke="#3399E0" stroke-width="1.0"/>
<circle cx="461.5" cy="344.6" r="2.8215" fill="none" stroke="#3399E0" stroke-width="1.0"/>
<circle cx="486.5" cy="356.3" r="2.8215" fill="none" stroke="#3399E0" stroke-width="1.0"/>
<circle cx="511.5" cy="357.7" r="2.8215" fill="none" stroke="#3399E0" stroke-width="1.0"/>
<polyline points="86.5,408.6 111.5,463.4 136.5,393.2 161.5,385.1 186.5,369.6 211.5,332.0 236.5,327.3 261.5,379.4 286.5,323.1 311.5,333.6 336.5,318.4 361.5,321.9 386.5,317.3 411.5,322.4 436.5,334.5 461.5,344.6 486.5,356.3 511.5,357.7" fill="none" stroke="#50BDE6" stroke-width="1.4"/>
<path d="M89.008,405.46500000000003L83.365,408.6L89.008,411.735Z" fill="none" stroke="#50BDE6" stroke-width="1.0"/>
<path d="M114.008,460.265L108.365,463.4L114.008,466.53499999999997Z" fill="none" stroke="#50BDE6" stroke-width="1.0"/>
<path d="M139.008,390.065L133.365,393.2L139.008,396.335Z" fill="none" stroke="#50BDE6" stroke-width="1.0"/>
<path d="M164.008,381.96500000000003L158.365,385.1L164.008,388.235Z" fill="none" stroke="#50BDE6" stroke-width="1.0"/>
<path d="M189.008,366.46500000000003L183.365,369.6L189.008,372.735Z" fill="none" stroke="#50BDE6" stroke-width="1.0"/>
<path d="M214.008,328.865L208.365,332.0L214.008,335.135Z" fill="none" stroke="#50BDE6" stroke-width="1.0"/>
<path d="M239.008,324.165L233.365,327.3L239.008,330.435Z" fill="none" stroke="#50BDE6" stroke-width="1.0"/>
<path d="M264.008,376.265L258.365,379.4L264.008,382.53499999999997Z" fill="none" stroke="#50BDE6" stroke-width="1.0"/>
<path d="M289.008,319.96500000000003L283.365,323.1L289.008,326.235Z" fill="none" stroke="#50BDE6" stroke-width="1.0"/>
<path d="M314.008,330.46500000000003L308.365,333.6L314.008,336.735Z" fill="none" stroke="#50BDE6" stroke-width="1.0"/>
<path d="M339.008,315.265L333.365,318.4L339.008,321.53499999999997Z" fill="none" stroke="#50BDE6" stroke-width="1.0"/>
<path d="M364.008,318.765L358.365,321.9L364.008,325.03499999999997Z" fill="none" stroke="#50BDE6" stroke-width="1.0"/>
<path d="M389.008,314.165L383.365,317.3L389.008,320.435Z" fill="none" stroke="#50BDE6" stroke-width="1.0"/>
<path d="M414.008,319.265L408.365,322.4L414.008,325.53499999999997Z" fill="none" stroke="#50BDE6" stroke-width="1.0"/>
<path d="M439.008,331.365L433.365,334.5L439.008,337.635Z" fill="none" stroke="#50BDE6" stroke-width="1.0"/>
<path d="M464.008,341.46500000000003L458.365,344.6L464.008,347.735Z" fill="none" stroke="#50BDE6" stroke-width="1.0"/>
<path d="M489.008,353.165L483.365,356.3L489.008,359.435Z" fill="none" stroke="#50BDE6" stroke-width="1.0"/>
<path d="M514.008,354.565L508.365,357.7L514.008,360.835Z" fill="none" stroke="#50BDE6" stroke-width="1.0"/>
<polyline points="86.5,406.8 111.5,459.2 136.5,391.4 161.5,383.9 186.5,366.9 211.5,330.5 236.5,325.4 261.5,390.5 286.5,320.6 311.5,332.2 336.5,317.2 361.5,320.3 386.5,316.4 411.5,321.7 436.5,334.5 461.5,344.6 486.5,356.3 511.5,357.7" fill="none" stroke="#2A88D8" stroke-width="1.4" stroke-dasharray="7.5 8"/>
<path d="M83.365,403.665L89.635,409.935M83.365,409.935L89.635,403.665" stroke="#2A88D8" stroke-width="1.0"/>
<path d="M108.365,456.065L114.635,462.335M108.365,462.335L114.635,456.065" stroke="#2A88D8" stroke-width="1.0"/>
<path d="M133.365,388.265L139.635,394.53499999999997M133.365,394.53499999999997L139.635,388.265" stroke="#2A88D8" stroke-width="1.0"/>
<path d="M158.365,380.765L164.635,387.03499999999997M158.365,387.03499999999997L164.635,380.765" stroke="#2A88D8" stroke-width="1.0"/>
<path d="M183.365,363.765L189.635,370.03499999999997M183.365,370.03499999999997L189.635,363.765" stroke="#2A88D8" stroke-width="1.0"/>
<path d="M208.365,327.365L214.635,333.635M208.365,333.635L214.635,327.365" stroke="#2A88D8" stroke-width="1.0"/>
<path d="M233.365,322.265L239.635,328.53499999999997M233.365,328.53499999999997L239.635,322.265" stroke="#2A88D8" stroke-width="1.0"/>
<path d="M258.365,387.365L264.635,393.635M258.365,393.635L264.635,387.365" stroke="#2A88D8" stroke-width="1.0"/>
<path d="M283.365,317.46500000000003L289.635,323.735M283.365,323.735L289.635,317.46500000000003" stroke="#2A88D8" stroke-width="1.0"/>
<path d="M308.365,329.065L314.635,335.335M308.365,335.335L314.635,329.065" stroke="#2A88D8" stroke-width="1.0"/>
<path d="M333.365,314.065L339.635,320.335M333.365,320.335L339.635,314.065" stroke="#2A88D8" stroke-width="1.0"/>
<path d="M358.365,317.165L364.635,323.435M358.365,323.435L364.635,317.165" stroke="#2A88D8" stroke-width="1.0"/>
<path d="M383.365,313.265L389.635,319.53499999999997M383.365,319.53499999999997L389.635,313.265" stroke="#2A88D8" stroke-width="1.0"/>
<path d="M408.365,318.565L414.635,324.835M408.365,324.835L414.635,318.565" stroke="#2A88D8" stroke-width="1.0"/>
<path d="M433.365,331.365L439.635,337.635M433.365,337.635L439.635,331.365" stroke="#2A88D8" stroke-width="1.0"/>
<path d="M458.365,341.46500000000003L464.635,347.735M458.365,347.735L464.635,341.46500000000003" stroke="#2A88D8" stroke-width="1.0"/>
<path d="M483.365,353.165L489.635,359.435M483.365,359.435L489.635,353.165" stroke="#2A88D8" stroke-width="1.0"/>
<path d="M508.365,354.565L514.635,360.835M508.365,360.835L514.635,354.565" stroke="#2A88D8" stroke-width="1.0"/>
<polyline points="86.5,405.0 111.5,455.0 136.5,389.6 161.5,382.7 186.5,364.2 211.5,329.1 236.5,323.5 261.5,368.1 286.5,318.1 311.5,330.9 336.5,316.0 361.5,318.7 386.5,315.5 411.5,321.1 436.5,334.5 461.5,344.6 486.5,356.3 511.5,357.7" fill="none" stroke="#3090E0" stroke-width="1.4" stroke-dasharray="7.5 8"/>
<polygon points="86.50,401.87 87.33,403.86 89.48,404.03 87.84,405.44 88.34,407.54 86.50,406.41 84.66,407.54 85.16,405.44 83.52,404.03 85.67,403.86" fill="#3090E0" stroke="#3090E0" stroke-width="0.6"/>
<polygon points="111.50,451.87 112.33,453.86 114.48,454.03 112.84,455.44 113.34,457.54 111.50,456.41 109.66,457.54 110.16,455.44 108.52,454.03 110.67,453.86" fill="#3090E0" stroke="#3090E0" stroke-width="0.6"/>
<polygon points="136.50,386.47 137.33,388.46 139.48,388.63 137.84,390.04 138.34,392.14 136.50,391.01 134.66,392.14 135.16,390.04 133.52,388.63 135.67,388.46" fill="#3090E0" stroke="#3090E0" stroke-width="0.6"/>
<polygon points="161.50,379.56 162.33,381.56 164.48,381.73 162.84,383.14 163.34,385.24 161.50,384.11 159.66,385.24 160.16,383.14 158.52,381.73 160.67,381.56" fill="#3090E0" stroke="#3090E0" stroke-width="0.6"/>
<polygon points="186.50,361.06 187.33,363.06 189.48,363.23 187.84,364.64 188.34,366.74 186.50,365.61 184.66,366.74 185.16,364.64 183.52,363.23 185.67,363.06" fill="#3090E0" stroke="#3090E0" stroke-width="0.6"/>
<polygon points="211.50,325.97 212.33,327.96 214.48,328.13 212.84,329.54 213.34,331.64 211.50,330.51 209.66,331.64 210.16,329.54 208.52,328.13 210.67,327.96" fill="#3090E0" stroke="#3090E0" stroke-width="0.6"/>
<polygon points="236.50,320.37 237.33,322.36 239.48,322.53 237.84,323.94 238.34,326.04 236.50,324.91 234.66,326.04 235.16,323.94 233.52,322.53 235.67,322.36" fill="#3090E0" stroke="#3090E0" stroke-width="0.6"/>
<polygon points="261.50,364.97 262.33,366.96 264.48,367.13 262.84,368.54 263.34,370.64 261.50,369.51 259.66,370.64 260.16,368.54 258.52,367.13 260.67,366.96" fill="#3090E0" stroke="#3090E0" stroke-width="0.6"/>
<polygon points="286.50,314.97 287.33,316.96 289.48,317.13 287.84,318.54 288.34,320.64 286.50,319.51 284.66,320.64 285.16,318.54 283.52,317.13 285.67,316.96" fill="#3090E0" stroke="#3090E0" stroke-width="0.6"/>
<polygon points="311.50,327.76 312.33,329.76 314.48,329.93 312.84,331.34 313.34,333.44 311.50,332.31 309.66,333.44 310.16,331.34 308.52,329.93 310.67,329.76" fill="#3090E0" stroke="#3090E0" stroke-width="0.6"/>
<polygon points="336.50,312.87 337.33,314.86 339.48,315.03 337.84,316.44 338.34,318.54 336.50,317.41 334.66,318.54 335.16,316.44 333.52,315.03 335.67,314.86" fill="#3090E0" stroke="#3090E0" stroke-width="0.6"/>
<polygon points="361.50,315.56 362.33,317.56 364.48,317.73 362.84,319.14 363.34,321.24 361.50,320.11 359.66,321.24 360.16,319.14 358.52,317.73 360.67,317.56" fill="#3090E0" stroke="#3090E0" stroke-width="0.6"/>
<polygon points="386.50,312.37 387.33,314.36 389.48,314.53 387.84,315.94 388.34,318.04 386.50,316.91 384.66,318.04 385.16,315.94 383.52,314.53 385.67,314.36" fill="#3090E0" stroke="#3090E0" stroke-width="0.6"/>
<polygon points="411.50,317.97 412.33,319.96 414.48,320.13 412.84,321.54 413.34,323.64 411.50,322.51 409.66,323.64 410.16,321.54 408.52,320.13 410.67,319.96" fill="#3090E0" stroke="#3090E0" stroke-width="0.6"/>
<polygon points="436.50,331.37 437.33,333.36 439.48,333.53 437.84,334.94 438.34,337.04 436.50,335.91 434.66,337.04 435.16,334.94 433.52,333.53 435.67,333.36" fill="#3090E0" stroke="#3090E0" stroke-width="0.6"/>
<polygon points="461.50,341.47 462.33,343.46 464.48,343.63 462.84,345.04 463.34,347.14 461.50,346.01 459.66,347.14 460.16,345.04 458.52,343.63 460.67,343.46" fill="#3090E0" stroke="#3090E0" stroke-width="0.6"/>
<polygon points="486.50,353.17 487.33,355.16 489.48,355.33 487.84,356.74 488.34,358.84 486.50,357.71 484.66,358.84 485.16,356.74 483.52,355.33 485.67,355.16" fill="#3090E0" stroke="#3090E0" stroke-width="0.6"/>
<polygon points="511.50,354.56 512.33,356.56 514.48,356.73 512.84,358.14 513.34,360.24 511.50,359.11 509.66,360.24 510.16,358.14 508.52,356.73 510.67,356.56" fill="#3090E0" stroke="#3090E0" stroke-width="0.6"/>
<polyline points="86.5,403.2 111.5,450.8 136.5,387.7 161.5,381.4 186.5,361.6 211.5,327.7 236.5,321.6 261.5,362.5 286.5,315.6 311.5,329.5 336.5,314.8 361.5,317.1 386.5,314.6 411.5,320.4 436.5,334.5 461.5,344.6 486.5,356.3 511.5,357.7" fill="none" stroke="#2E8CD0" stroke-width="1.4" stroke-dasharray="7.5 8"/>
<path d="M83.365,403.2H89.635M86.5,400.065V406.335M84.14875,400.84875L88.85125,405.55125M84.14875,405.55125L88.85125,400.84875" stroke="#2E8CD0" stroke-width="1.0"/>
<path d="M108.365,450.8H114.635M111.5,447.665V453.935M109.14875,448.44875L113.85125,453.15125M109.14875,453.15125L113.85125,448.44875" stroke="#2E8CD0" stroke-width="1.0"/>
<path d="M133.365,387.7H139.635M136.5,384.565V390.835M134.14875,385.34875L138.85125,390.05125M134.14875,390.05125L138.85125,385.34875" stroke="#2E8CD0" stroke-width="1.0"/>
<path d="M158.365,381.4H164.635M161.5,378.265V384.53499999999997M159.14875,379.04875L163.85125,383.75124999999997M159.14875,383.75124999999997L163.85125,379.04875" stroke="#2E8CD0" stroke-width="1.0"/>
<path d="M183.365,361.6H189.635M186.5,358.46500000000003V364.735M184.14875,359.24875000000003L188.85125,363.95125M184.14875,363.95125L188.85125,359.24875000000003" stroke="#2E8CD0" stroke-width="1.0"/>
<path d="M208.365,327.7H214.635M211.5,324.565V330.835M209.14875,325.34875L213.85125,330.05125M209.14875,330.05125L213.85125,325.34875" stroke="#2E8CD0" stroke-width="1.0"/>
<path d="M233.365,321.6H239.635M236.5,318.46500000000003V324.735M234.14875,319.24875000000003L238.85125,323.95125M234.14875,323.95125L238.85125,319.24875000000003" stroke="#2E8CD0" stroke-width="1.0"/>
<path d="M258.365,362.5H264.635M261.5,359.365V365.635M259.14875,360.14875L263.85125,364.85125M259.14875,364.85125L263.85125,360.14875" stroke="#2E8CD0" stroke-width="1.0"/>
<path d="M283.365,315.6H289.635M286.5,312.46500000000003V318.735M284.14875,313.24875000000003L288.85125,317.95125M284.14875,317.95125L288.85125,313.24875000000003" stroke="#2E8CD0" stroke-width="1.0"/>
<path d="M308.365,329.5H314.635M311.5,326.365V332.635M309.14875,327.14875L313.85125,331.85125M309.14875,331.85125L313.85125,327.14875" stroke="#2E8CD0" stroke-width="1.0"/>
<path d="M333.365,314.8H339.635M336.5,311.665V317.935M334.14875,312.44875L338.85125,317.15125M334.14875,317.15125L338.85125,312.44875" stroke="#2E8CD0" stroke-width="1.0"/>
<path d="M358.365,317.1H364.635M361.5,313.96500000000003V320.235M359.14875,314.74875000000003L363.85125,319.45125M359.14875,319.45125L363.85125,314.74875000000003" stroke="#2E8CD0" stroke-width="1.0"/>
<path d="M383.365,314.6H389.635M386.5,311.46500000000003V317.735M384.14875,312.24875000000003L388.85125,316.95125M384.14875,316.95125L388.85125,312.24875000000003" stroke="#2E8CD0" stroke-width="1.0"/>
<path d="M408.365,320.4H414.635M411.5,317.265V323.53499999999997M409.14875,318.04875L413.85125,322.75124999999997M409.14875,322.75124999999997L413.85125,318.04875" stroke="#2E8CD0" stroke-width="1.0"/>
<path d="M433.365,334.5H439.635M436.5,331.365V337.635M434.14875,332.14875L438.85125,336.85125M434.14875,336.85125L438.85125,332.14875" stroke="#2E8CD0" stroke-width="1.0"/>
<path d="M458.365,344.6H464.635M461.5,341.46500000000003V347.735M459.14875,342.24875000000003L463.85125,346.95125M459.14875,346.95125L463.85125,342.24875000000003" stroke="#2E8CD0" stroke-width="1.0"/>
<path d="M483.365,356.3H489.635M486.5,353.165V359.435M484.14875,353.94875L488.85125,358.65125M484.14875,358.65125L488.85125,353.94875" stroke="#2E8CD0" stroke-width="1.0"/>
<path d="M508.365,357.7H514.635M511.5,354.565V360.835M509.14875,355.34875L513.85125,360.05125M509.14875,360.05125L513.85125,355.34875" stroke="#2E8CD0" stroke-width="1.0"/>
</g>
<rect x="236" y="9.5" width="291" height="84.0" fill="#fff" stroke="#bbb" stroke-width="1"/>
<g font-family="Liberation Sans" font-size="9" fill="#1a1a1a" stroke="#1a1a1a" stroke-width="0.2">
<path d="M242.7,19.9h8M274.3,19.9h8M258.7,19.9h8" stroke="#DDA070" stroke-width="1.3"/>
<path d="M258.9,19.9L262.7,16.099999999999998L266.5,19.9L262.7,23.7Z" fill="none" stroke="#DDA070" stroke-width="1.0"/>
<text x="288.6" y="22.6">WCB-3-1*</text>
<path d="M242.7,30.8h8M274.3,30.8h8M258.7,30.8h8" stroke="#DDA070" stroke-width="1.3"/>
<path d="M258.9,30.8H266.5M262.7,27.0V34.6" stroke="#E59050" stroke-width="1.3"/>
<text x="288.6" y="33.5">WCB-3-2*</text>
<path d="M242.7,41.7h8M274.3,41.7h8M258.7,41.7h8" stroke="#DDA070" stroke-width="1.3"/>
<path d="M258.9,41.7L262.7,37.900000000000006L266.5,41.7L262.7,45.5Z" fill="#F0620A" stroke="#F0620A" stroke-width="0.8"/>
<text x="288.6" y="44.4">WCB-3-3*</text>
<path d="M242.7,52.5H282.3" stroke="#2B2BC2" stroke-width="1.3"/>
<path d="M258.9,55.54L262.7,48.7L266.5,55.54Z" fill="none" stroke="#2B2BC2" stroke-width="1.0"/>
<text x="288.6" y="55.2">WCB-3-4-1</text>
<path d="M242.7,63.4H282.3" stroke="#2B2BC2" stroke-width="1.3"/>
<circle cx="262.7" cy="63.4" r="3.42" fill="none" stroke="#2B2BC2" stroke-width="1.0"/>
<text x="288.6" y="66.1">WCB-3-4-2</text>
<path d="M242.7,74.3H282.3" stroke="#2B2BC2" stroke-width="1.3"/>
<path d="M265.74,70.5L258.9,74.3L265.74,78.1Z" fill="none" stroke="#2B2BC2" stroke-width="1.0"/>
<text x="288.6" y="77.0">WCB-3-4-4</text>
<path d="M242.7,85.2H282.3" stroke="#2B2BC2" stroke-width="1.3"/>
<path d="M258.9,81.4L266.5,89.0M258.9,89.0L266.5,81.4" stroke="#2B2BC2" stroke-width="1.0"/>
<text x="288.6" y="87.9">WCB-3-4-5</text>
<path d="M341.5,19.9H382" stroke="#5555A8" stroke-width="1.3"/>
<polygon points="365.50,19.90 363.60,22.70 359.80,22.70 357.90,19.90 359.80,17.10 363.60,17.10" fill="none" stroke="#4444CC" stroke-width="1.2"/>
<text x="388" y="22.6">WCB-3-4-6</text>
<path d="M341.5,30.8h8M374,30.8h8M357.7,30.8h8" stroke="#7FAA8F" stroke-width="1.3"/>
<path d="M357.9,30.8H365.5M361.7,27.0V34.6" stroke="#0F8A3A" stroke-width="2.6"/>
<text x="388" y="33.5">PHN-1-1</text>
<path d="M341.5,41.7h8M374,41.7h8M357.7,41.7h8" stroke="#7FAA8F" stroke-width="1.3"/>
<polygon points="365.50,41.70 363.60,44.50 359.80,44.50 357.90,41.70 359.80,38.90 363.60,38.90" fill="none" stroke="#5AAA78" stroke-width="1.2"/>
<text x="388" y="44.4">PHN-1-2</text>
<path d="M341.5,52.5h8M374,52.5h8M357.7,52.5h8" stroke="#66CC66" stroke-width="1.3"/>
<rect x="357.9" y="48.7" width="7.6" height="7.6" fill="none" stroke="#66CC66" stroke-width="1.0"/>
<text x="388" y="55.2">SP-2-1</text>
<path d="M341.5,63.4H382" stroke="#38BCD8" stroke-width="1.3"/>
<path d="M357.9,63.4L361.7,59.6L365.5,63.4L361.7,67.2Z" fill="none" stroke="#38BCD8" stroke-width="1.0"/>
<text x="388" y="66.1">PF-1-1-2</text>
<path d="M341.5,74.3H382" stroke="#38BCD8" stroke-width="1.3"/>
<rect x="357.9" y="70.5" width="7.6" height="7.6" fill="none" stroke="#38BCD8" stroke-width="1.0"/>
<text x="388" y="77.0">PF-1-1-3</text>
<path d="M440.9,19.9H481.3" stroke="#38BCD8" stroke-width="1.3"/>
<path d="M457.8,22.939999999999998L461.6,16.099999999999998L465.40000000000003,22.939999999999998Z" fill="none" stroke="#38BCD8" stroke-width="1.0"/>
<text x="487.8" y="22.6">PF-1-1-4</text>
<path d="M440.9,30.8H481.3" stroke="#38BCD8" stroke-width="1.3"/>
<circle cx="461.6" cy="30.8" r="3.42" fill="none" stroke="#38BCD8" stroke-width="1.0"/>
<text x="487.8" y="33.5">PF-1-1-5</text>
<path d="M440.9,41.7H481.3" stroke="#38BCD8" stroke-width="1.3"/>
<path d="M464.64000000000004,37.900000000000006L457.8,41.7L464.64000000000004,45.5Z" fill="none" stroke="#38BCD8" stroke-width="1.0"/>
<text x="487.8" y="44.4">PF-1-1-6</text>
<path d="M440.9,52.5h8M473.3,52.5h8M457.6,52.5h8" stroke="#3C9C9C" stroke-width="1.3"/>
<path d="M457.8,48.7L465.40000000000003,56.3M457.8,56.3L465.40000000000003,48.7" stroke="#3C9C9C" stroke-width="1.0"/>
<text x="487.8" y="55.2">PF-1-2*</text>
<path d="M440.9,63.4h8M473.3,63.4h8M457.6,63.4h8" stroke="#3C9C9C" stroke-width="1.3"/>
<polygon points="461.60,59.60 462.61,62.02 465.21,62.23 463.23,63.93 463.83,66.47 461.60,65.11 459.37,66.47 459.97,63.93 457.99,62.23 460.59,62.02" fill="#3C9C9C" stroke="#3C9C9C" stroke-width="0.6"/>
<text x="487.8" y="66.1">PF-1-3*</text>
<path d="M440.9,74.3h8M473.3,74.3h8M457.6,74.3h8" stroke="#3C9C9C" stroke-width="1.3"/>
<path d="M457.8,74.3H465.40000000000003M461.6,70.5V78.1M458.75,71.45L464.45000000000005,77.14999999999999M458.75,77.14999999999999L464.45000000000005,71.45" stroke="#3C9C9C" stroke-width="1.0"/>
<text x="487.8" y="77.0">PF-1-4*</text>
</g>
</svg></body></html>
